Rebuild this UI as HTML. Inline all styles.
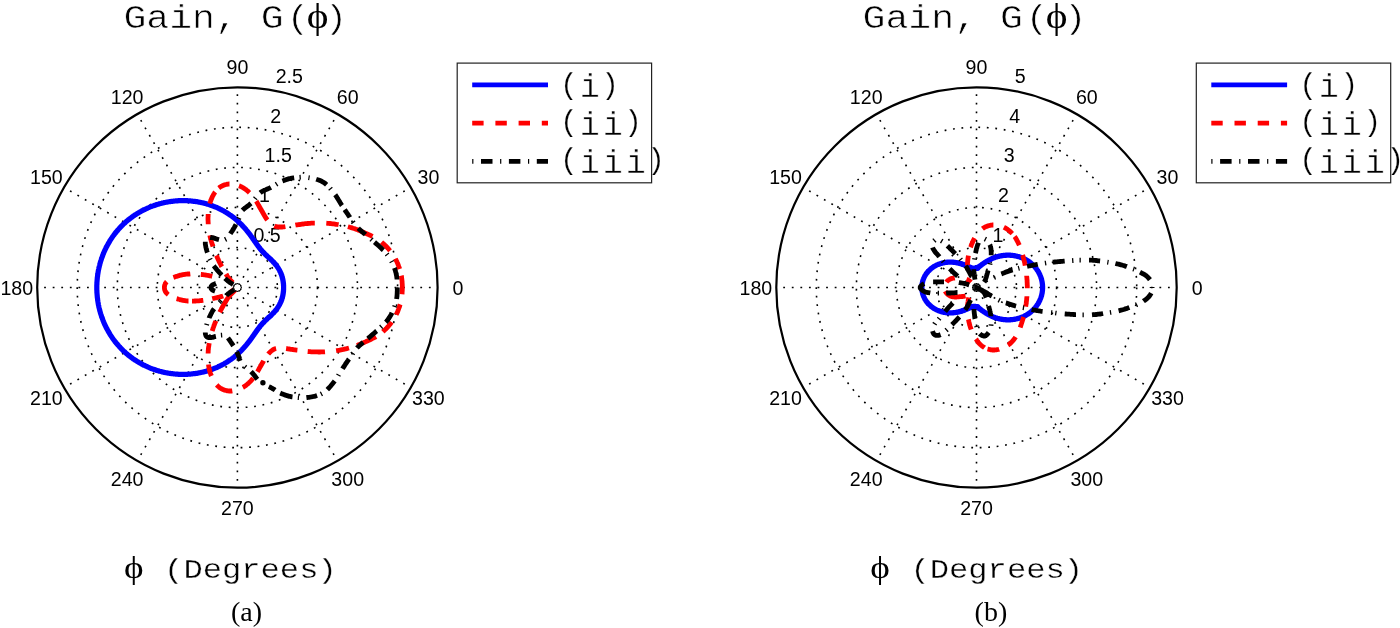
<!DOCTYPE html>
<html lang="en"><head><meta charset="utf-8"><title>Gain polar plots</title>
<style>html,body{margin:0;padding:0;background:#fff}svg{display:block}</style></head><body>
<svg width="1400" height="628" viewBox="0 0 1400 628">
<rect width="1400" height="628" fill="#fff"/>
<g fill="none" stroke="#000" stroke-width="1.6" stroke-dasharray="1.8 6.7">
<circle cx="237.4" cy="287.5" r="40.0"/>
<circle cx="237.4" cy="287.5" r="80.1"/>
<circle cx="237.4" cy="287.5" r="120.1"/>
<circle cx="237.4" cy="287.5" r="160.2"/>
</g>
<g fill="none" stroke="#000" stroke-width="1.6" stroke-dasharray="1.8 6.78" stroke-dashoffset="5.86">
<path d="M237.4 287.5L437.6 287.5"/>
<path d="M237.4 287.5L410.8 187.4"/>
<path d="M237.4 287.5L337.5 114.1"/>
<path d="M237.4 287.5L237.4 87.3"/>
<path d="M237.4 287.5L137.3 114.1"/>
<path d="M237.4 287.5L64.0 187.4"/>
<path d="M237.4 287.5L37.2 287.5"/>
<path d="M237.4 287.5L64.0 387.6"/>
<path d="M237.4 287.5L137.3 460.9"/>
<path d="M237.4 287.5L237.4 487.7"/>
<path d="M237.4 287.5L337.5 460.9"/>
<path d="M237.4 287.5L410.8 387.6"/>
</g>
<circle cx="237.4" cy="287.5" r="200.2" fill="none" stroke="#000" stroke-width="2.2"/>
<g font-family="'Liberation Sans', sans-serif" font-size="19.6" fill="#000">
<text x="458.0" y="294.7" text-anchor="middle">0</text>
<text x="428.4" y="184.4" text-anchor="middle">30</text>
<text x="347.7" y="103.7" text-anchor="middle">60</text>
<text x="237.4" y="74.1" text-anchor="middle">90</text>
<text x="127.1" y="103.7" text-anchor="middle">120</text>
<text x="46.4" y="184.4" text-anchor="middle">150</text>
<text x="16.8" y="294.7" text-anchor="middle">180</text>
<text x="46.4" y="405.0" text-anchor="middle">210</text>
<text x="127.1" y="485.7" text-anchor="middle">240</text>
<text x="237.4" y="515.3" text-anchor="middle">270</text>
<text x="347.7" y="485.7" text-anchor="middle">300</text>
<text x="428.4" y="405.0" text-anchor="middle">330</text>
<text x="253.5" y="241.6">0.5</text>
<text x="259.0" y="201.9">1</text>
<text x="264.6" y="162.3">1.5</text>
<text x="270.2" y="122.6">2</text>
<text x="275.7" y="83.0">2.5</text>
</g>
<path d="M283.6 287.5L283.6 287.3L283.6 287.1L283.6 286.9L283.6 286.7L283.6 286.5L283.6 286.3L283.6 286.1L283.6 285.9L283.6 285.7L283.6 285.5L283.6 285.3L283.5 285.1L283.5 284.9L283.5 284.7L283.5 284.5L283.5 284.3L283.5 284.1L283.5 283.9L283.4 283.7L283.4 283.5L283.4 283.3L283.4 283.1L283.3 282.9L283.3 282.7L283.3 282.5L283.3 282.3L283.2 282.1L283.2 281.9L283.2 281.7L283.2 281.5L283.1 281.3L283.1 281.1L283.1 280.9L283.0 280.7L283.0 280.5L283.0 280.3L282.9 280.1L282.9 279.9L282.8 279.7L282.8 279.5L282.8 279.3L282.7 279.1L282.7 278.9L282.6 278.7L282.6 278.5L282.5 278.3L282.5 278.1L282.4 277.9L282.4 277.7L282.3 277.5L282.3 277.3L282.2 277.2L282.2 277.0L282.1 276.8L282.1 276.6L282.0 276.4L281.9 276.2L281.9 276.0L281.8 275.8L281.8 275.6L281.7 275.4L281.6 275.2L281.6 275.0L281.5 274.9L281.4 274.7L281.4 274.5L281.3 274.3L281.2 274.1L281.2 273.9L281.1 273.7L281.0 273.5L280.9 273.4L280.9 273.2L280.8 273.0L280.7 272.8L280.6 272.6L280.5 272.4L280.5 272.3L280.4 272.1L280.3 271.9L280.2 271.7L280.1 271.5L280.0 271.3L279.9 271.2L279.9 271.0L279.8 270.8L279.7 270.6L279.6 270.5L279.5 270.3L279.4 270.1L279.3 269.9L279.2 269.8L279.1 269.6L279.0 269.4L278.9 269.2L278.8 269.1L278.7 268.9L278.6 268.7L278.5 268.6L278.4 268.4L278.3 268.2L278.2 268.1L278.1 267.9L278.0 267.7L277.9 267.6L277.7 267.4L277.6 267.2L277.5 267.1L277.4 266.9L277.3 266.7L277.2 266.6L277.1 266.4L276.9 266.2L276.8 266.1L276.7 265.9L276.6 265.8L276.5 265.6L276.4 265.5L276.2 265.3L276.1 265.1L276.0 265.0L275.9 264.8L275.7 264.7L275.6 264.5L275.5 264.4L275.4 264.2L275.2 264.1L275.1 263.9L275.0 263.8L274.9 263.6L274.7 263.5L274.6 263.3L274.5 263.2L274.3 263.0L274.2 262.9L274.1 262.8L273.9 262.6L273.8 262.5L273.7 262.3L273.5 262.2L273.4 262.0L273.3 261.9L273.1 261.8L273.0 261.6L272.9 261.5L272.7 261.3L272.6 261.2L272.5 261.1L272.3 260.9L272.2 260.8L272.1 260.7L271.9 260.5L271.8 260.4L271.6 260.3L271.5 260.1L271.4 260.0L271.2 259.9L271.1 259.7L270.9 259.6L270.8 259.5L270.7 259.3L270.5 259.2L270.4 259.1L270.3 258.9L270.1 258.8L270.0 258.7L269.8 258.6L269.7 258.4L269.5 258.3L269.4 258.2L269.3 258.0L269.1 257.9L269.0 257.8L268.8 257.7L268.7 257.5L268.6 257.4L268.4 257.3L268.3 257.1L268.1 257.0L268.0 256.9L267.9 256.8L267.7 256.6L267.6 256.5L267.5 256.4L267.3 256.3L267.2 256.1L267.0 256.0L266.9 255.9L266.8 255.7L266.6 255.6L266.5 255.5L266.3 255.4L266.2 255.2L266.1 255.1L265.9 255.0L265.8 254.8L265.7 254.7L265.5 254.6L265.4 254.4L265.2 254.3L265.1 254.2L265.0 254.1L264.8 253.9L264.7 253.8L264.6 253.7L264.4 253.5L264.3 253.4L264.2 253.2L264.0 253.1L263.9 253.0L263.8 252.8L263.6 252.7L263.5 252.6L263.4 252.4L263.2 252.3L263.1 252.1L263.0 252.0L262.8 251.9L262.7 251.7L262.6 251.6L262.4 251.4L262.3 251.3L262.2 251.1L262.0 251.0L261.9 250.8L261.8 250.7L261.6 250.5L261.5 250.4L261.4 250.2L261.2 250.1L261.1 249.9L261.0 249.8L260.8 249.6L260.7 249.5L260.6 249.3L260.5 249.1L260.3 249.0L260.2 248.8L260.1 248.7L259.9 248.5L259.8 248.3L259.7 248.2L259.5 248.0L259.4 247.8L259.3 247.6L259.1 247.5L259.0 247.3L258.9 247.1L258.7 246.9L258.6 246.8L258.5 246.6L258.3 246.4L258.2 246.2L258.1 246.1L257.9 245.9L257.8 245.7L257.7 245.5L257.5 245.3L257.4 245.1L257.2 244.9L257.1 244.7L257.0 244.5L256.8 244.4L256.7 244.2L256.6 244.0L256.4 243.8L256.3 243.6L256.1 243.4L256.0 243.2L255.9 243.0L255.7 242.8L255.6 242.5L255.4 242.3L255.3 242.1L255.1 241.9L255.0 241.7L254.8 241.5L254.7 241.3L254.5 241.1L254.4 240.8L254.2 240.6L254.1 240.4L253.9 240.2L253.8 240.0L253.6 239.7L253.5 239.5L253.3 239.3L253.1 239.1L253.0 238.8L252.8 238.6L252.7 238.4L252.5 238.1L252.3 237.9L252.2 237.7L252.0 237.4L251.8 237.2L251.7 237.0L251.5 236.7L251.3 236.5L251.1 236.2L251.0 236.0L250.8 235.8L250.6 235.5L250.4 235.3L250.2 235.0L250.1 234.8L249.9 234.5L249.7 234.3L249.5 234.0L249.3 233.8L249.1 233.5L248.9 233.3L248.7 233.0L248.5 232.8L248.3 232.5L248.1 232.3L247.9 232.0L247.7 231.8L247.5 231.5L247.3 231.3L247.1 231.0L246.9 230.7L246.7 230.5L246.5 230.2L246.3 230.0L246.0 229.7L245.8 229.4L245.6 229.2L245.4 228.9L245.1 228.6L244.9 228.4L244.7 228.1L244.5 227.9L244.2 227.6L244.0 227.3L243.8 227.1L243.5 226.8L243.3 226.5L243.0 226.3L242.8 226.0L242.5 225.8L242.3 225.5L242.0 225.2L241.8 225.0L241.5 224.7L241.3 224.4L241.0 224.2L240.7 223.9L240.5 223.6L240.2 223.4L239.9 223.1L239.7 222.9L239.4 222.6L239.1 222.3L238.8 222.1L238.5 221.8L238.3 221.6L238.0 221.3L237.7 221.0L237.4 220.8L237.1 220.5L236.8 220.3L236.5 220.0L236.2 219.7L235.9 219.5L235.6 219.2L235.3 219.0L235.0 218.7L234.7 218.5L234.4 218.2L234.1 218.0L233.7 217.7L233.4 217.5L233.1 217.2L232.8 217.0L232.4 216.7L232.1 216.5L231.8 216.2L231.5 216.0L231.1 215.7L230.8 215.5L230.4 215.3L230.1 215.0L229.8 214.8L229.4 214.5L229.1 214.3L228.7 214.1L228.4 213.8L228.0 213.6L227.6 213.4L227.3 213.1L226.9 212.9L226.6 212.7L226.2 212.5L225.8 212.2L225.4 212.0L225.1 211.8L224.7 211.6L224.3 211.4L223.9 211.1L223.6 210.9L223.2 210.7L222.8 210.5L222.4 210.3L222.0 210.1L221.6 209.9L221.2 209.7L220.8 209.5L220.4 209.3L220.0 209.1L219.6 208.9L219.2 208.7L218.8 208.5L218.4 208.3L218.0 208.1L217.6 207.9L217.1 207.7L216.7 207.5L216.3 207.4L215.9 207.2L215.5 207.0L215.0 206.8L214.6 206.7L214.2 206.5L213.7 206.3L213.3 206.1L212.9 206.0L212.4 205.8L212.0 205.6L211.5 205.5L211.1 205.3L210.7 205.2L210.2 205.0L209.8 204.9L209.3 204.7L208.9 204.6L208.4 204.4L207.9 204.3L207.5 204.2L207.0 204.0L206.6 203.9L206.1 203.8L205.6 203.6L205.2 203.5L204.7 203.4L204.2 203.3L203.7 203.1L203.3 203.0L202.8 202.9L202.3 202.8L201.8 202.7L201.4 202.6L200.9 202.5L200.4 202.4L199.9 202.3L199.4 202.2L198.9 202.1L198.4 202.0L197.9 201.9L197.5 201.8L197.0 201.7L196.5 201.7L196.0 201.6L195.5 201.5L195.0 201.4L194.5 201.4L194.0 201.3L193.5 201.3L192.9 201.2L192.4 201.1L191.9 201.1L191.4 201.0L190.9 201.0L190.4 200.9L189.9 200.9L189.4 200.9L188.9 200.8L188.3 200.8L187.8 200.8L187.3 200.7L186.8 200.7L186.3 200.7L185.7 200.7L185.2 200.7L184.7 200.6L184.2 200.6L183.6 200.6L183.1 200.6L182.6 200.6L182.1 200.6L181.5 200.6L181.0 200.6L180.5 200.7L179.9 200.7L179.4 200.7L178.9 200.7L178.3 200.7L177.8 200.8L177.3 200.8L176.7 200.8L176.2 200.9L175.7 200.9L175.1 201.0L174.6 201.0L174.0 201.1L173.5 201.1L173.0 201.2L172.4 201.3L171.9 201.3L171.3 201.4L170.8 201.5L170.3 201.6L169.7 201.6L169.2 201.7L168.6 201.8L168.1 201.9L167.5 202.0L167.0 202.1L166.5 202.2L165.9 202.3L165.4 202.4L164.8 202.5L164.3 202.6L163.7 202.8L163.2 202.9L162.6 203.0L162.1 203.1L161.6 203.3L161.0 203.4L160.5 203.6L159.9 203.7L159.4 203.8L158.9 204.0L158.3 204.2L157.8 204.3L157.2 204.5L156.7 204.6L156.1 204.8L155.6 205.0L155.1 205.2L154.5 205.4L154.0 205.5L153.5 205.7L152.9 205.9L152.4 206.1L151.9 206.3L151.3 206.5L150.8 206.7L150.3 206.9L149.7 207.2L149.2 207.4L148.7 207.6L148.1 207.8L147.6 208.1L147.1 208.3L146.6 208.5L146.0 208.8L145.5 209.0L145.0 209.3L144.5 209.5L144.0 209.8L143.4 210.0L142.9 210.3L142.4 210.6L141.9 210.8L141.4 211.1L140.9 211.4L140.4 211.7L139.9 212.0L139.4 212.3L138.8 212.6L138.3 212.9L137.8 213.2L137.3 213.5L136.8 213.8L136.4 214.1L135.9 214.4L135.4 214.7L134.9 215.0L134.4 215.4L133.9 215.7L133.4 216.0L132.9 216.4L132.5 216.7L132.0 217.1L131.5 217.4L131.0 217.8L130.6 218.1L130.1 218.5L129.6 218.8L129.2 219.2L128.7 219.6L128.2 219.9L127.8 220.3L127.3 220.7L126.9 221.1L126.4 221.5L126.0 221.9L125.5 222.3L125.1 222.7L124.6 223.1L124.2 223.5L123.8 223.9L123.3 224.3L122.9 224.7L122.5 225.1L122.1 225.5L121.6 225.9L121.2 226.4L120.8 226.8L120.4 227.2L120.0 227.7L119.6 228.1L119.2 228.6L118.8 229.0L118.4 229.4L118.0 229.9L117.6 230.4L117.2 230.8L116.8 231.3L116.4 231.7L116.1 232.2L115.7 232.7L115.3 233.1L114.9 233.6L114.6 234.1L114.2 234.6L113.8 235.1L113.5 235.5L113.1 236.0L112.8 236.5L112.4 237.0L112.1 237.5L111.8 238.0L111.4 238.5L111.1 239.0L110.8 239.5L110.4 240.0L110.1 240.5L109.8 241.1L109.5 241.6L109.2 242.1L108.9 242.6L108.6 243.1L108.3 243.7L108.0 244.2L107.7 244.7L107.4 245.3L107.1 245.8L106.8 246.3L106.5 246.9L106.2 247.4L106.0 247.9L105.7 248.5L105.4 249.0L105.2 249.6L104.9 250.1L104.7 250.7L104.4 251.2L104.2 251.8L103.9 252.4L103.7 252.9L103.5 253.5L103.2 254.1L103.0 254.6L102.8 255.2L102.6 255.8L102.4 256.3L102.2 256.9L101.9 257.5L101.7 258.0L101.5 258.6L101.4 259.2L101.2 259.8L101.0 260.4L100.8 260.9L100.6 261.5L100.4 262.1L100.3 262.7L100.1 263.3L99.9 263.9L99.8 264.5L99.6 265.1L99.5 265.7L99.3 266.3L99.2 266.8L99.1 267.4L98.9 268.0L98.8 268.6L98.7 269.2L98.5 269.8L98.4 270.4L98.3 271.0L98.2 271.6L98.1 272.2L98.0 272.8L97.9 273.5L97.8 274.1L97.7 274.7L97.6 275.3L97.6 275.9L97.5 276.5L97.4 277.1L97.3 277.7L97.3 278.3L97.2 278.9L97.2 279.5L97.1 280.1L97.1 280.8L97.0 281.4L97.0 282.0L96.9 282.6L96.9 283.2L96.9 283.8L96.9 284.4L96.8 285.0L96.8 285.7L96.8 286.3L96.8 286.9L96.8 287.5L96.8 288.1L96.8 288.7L96.8 289.3L96.8 290.0L96.9 290.6L96.9 291.2L96.9 291.8L96.9 292.4L97.0 293.0L97.0 293.6L97.1 294.2L97.1 294.9L97.2 295.5L97.2 296.1L97.3 296.7L97.3 297.3L97.4 297.9L97.5 298.5L97.6 299.1L97.6 299.7L97.7 300.3L97.8 300.9L97.9 301.5L98.0 302.2L98.1 302.8L98.2 303.4L98.3 304.0L98.4 304.6L98.5 305.2L98.7 305.8L98.8 306.4L98.9 307.0L99.1 307.6L99.2 308.2L99.3 308.7L99.5 309.3L99.6 309.9L99.8 310.5L99.9 311.1L100.1 311.7L100.3 312.3L100.4 312.9L100.6 313.5L100.8 314.1L101.0 314.6L101.2 315.2L101.4 315.8L101.5 316.4L101.7 317.0L101.9 317.5L102.2 318.1L102.4 318.7L102.6 319.2L102.8 319.8L103.0 320.4L103.2 320.9L103.5 321.5L103.7 322.1L103.9 322.6L104.2 323.2L104.4 323.8L104.7 324.3L104.9 324.9L105.2 325.4L105.4 326.0L105.7 326.5L106.0 327.1L106.2 327.6L106.5 328.1L106.8 328.7L107.1 329.2L107.4 329.7L107.7 330.3L108.0 330.8L108.3 331.3L108.6 331.9L108.9 332.4L109.2 332.9L109.5 333.4L109.8 333.9L110.1 334.5L110.4 335.0L110.8 335.5L111.1 336.0L111.4 336.5L111.8 337.0L112.1 337.5L112.4 338.0L112.8 338.5L113.1 339.0L113.5 339.5L113.8 339.9L114.2 340.4L114.6 340.9L114.9 341.4L115.3 341.9L115.7 342.3L116.1 342.8L116.4 343.3L116.8 343.7L117.2 344.2L117.6 344.6L118.0 345.1L118.4 345.6L118.8 346.0L119.2 346.4L119.6 346.9L120.0 347.3L120.4 347.8L120.8 348.2L121.2 348.6L121.6 349.1L122.1 349.5L122.5 349.9L122.9 350.3L123.3 350.7L123.8 351.1L124.2 351.5L124.6 351.9L125.1 352.3L125.5 352.7L126.0 353.1L126.4 353.5L126.9 353.9L127.3 354.3L127.8 354.7L128.2 355.1L128.7 355.4L129.2 355.8L129.6 356.2L130.1 356.5L130.6 356.9L131.0 357.2L131.5 357.6L132.0 357.9L132.5 358.3L132.9 358.6L133.4 359.0L133.9 359.3L134.4 359.6L134.9 360.0L135.4 360.3L135.9 360.6L136.4 360.9L136.8 361.2L137.3 361.5L137.8 361.8L138.3 362.1L138.8 362.4L139.4 362.7L139.9 363.0L140.4 363.3L140.9 363.6L141.4 363.9L141.9 364.2L142.4 364.4L142.9 364.7L143.4 365.0L144.0 365.2L144.5 365.5L145.0 365.7L145.5 366.0L146.0 366.2L146.6 366.5L147.1 366.7L147.6 366.9L148.1 367.2L148.7 367.4L149.2 367.6L149.7 367.8L150.3 368.1L150.8 368.3L151.3 368.5L151.9 368.7L152.4 368.9L152.9 369.1L153.5 369.3L154.0 369.5L154.5 369.6L155.1 369.8L155.6 370.0L156.1 370.2L156.7 370.4L157.2 370.5L157.8 370.7L158.3 370.8L158.9 371.0L159.4 371.2L159.9 371.3L160.5 371.4L161.0 371.6L161.6 371.7L162.1 371.9L162.6 372.0L163.2 372.1L163.7 372.2L164.3 372.4L164.8 372.5L165.4 372.6L165.9 372.7L166.5 372.8L167.0 372.9L167.5 373.0L168.1 373.1L168.6 373.2L169.2 373.3L169.7 373.4L170.3 373.4L170.8 373.5L171.3 373.6L171.9 373.7L172.4 373.7L173.0 373.8L173.5 373.9L174.0 373.9L174.6 374.0L175.1 374.0L175.7 374.1L176.2 374.1L176.7 374.2L177.3 374.2L177.8 374.2L178.3 374.3L178.9 374.3L179.4 374.3L179.9 374.3L180.5 374.3L181.0 374.4L181.5 374.4L182.1 374.4L182.6 374.4L183.1 374.4L183.6 374.4L184.2 374.4L184.7 374.4L185.2 374.3L185.7 374.3L186.3 374.3L186.8 374.3L187.3 374.3L187.8 374.2L188.3 374.2L188.9 374.2L189.4 374.1L189.9 374.1L190.4 374.1L190.9 374.0L191.4 374.0L191.9 373.9L192.4 373.9L192.9 373.8L193.5 373.7L194.0 373.7L194.5 373.6L195.0 373.6L195.5 373.5L196.0 373.4L196.5 373.3L197.0 373.3L197.5 373.2L197.9 373.1L198.4 373.0L198.9 372.9L199.4 372.8L199.9 372.7L200.4 372.6L200.9 372.5L201.4 372.4L201.8 372.3L202.3 372.2L202.8 372.1L203.3 372.0L203.7 371.9L204.2 371.7L204.7 371.6L205.2 371.5L205.6 371.4L206.1 371.2L206.6 371.1L207.0 371.0L207.5 370.8L207.9 370.7L208.4 370.6L208.9 370.4L209.3 370.3L209.8 370.1L210.2 370.0L210.7 369.8L211.1 369.7L211.5 369.5L212.0 369.4L212.4 369.2L212.9 369.0L213.3 368.9L213.7 368.7L214.2 368.5L214.6 368.3L215.0 368.2L215.5 368.0L215.9 367.8L216.3 367.6L216.7 367.5L217.1 367.3L217.6 367.1L218.0 366.9L218.4 366.7L218.8 366.5L219.2 366.3L219.6 366.1L220.0 365.9L220.4 365.7L220.8 365.5L221.2 365.3L221.6 365.1L222.0 364.9L222.4 364.7L222.8 364.5L223.2 364.3L223.6 364.1L223.9 363.9L224.3 363.6L224.7 363.4L225.1 363.2L225.4 363.0L225.8 362.8L226.2 362.5L226.6 362.3L226.9 362.1L227.3 361.9L227.6 361.6L228.0 361.4L228.4 361.2L228.7 360.9L229.1 360.7L229.4 360.5L229.8 360.2L230.1 360.0L230.4 359.7L230.8 359.5L231.1 359.3L231.5 359.0L231.8 358.8L232.1 358.5L232.4 358.3L232.8 358.0L233.1 357.8L233.4 357.5L233.7 357.3L234.1 357.0L234.4 356.8L234.7 356.5L235.0 356.3L235.3 356.0L235.6 355.8L235.9 355.5L236.2 355.3L236.5 355.0L236.8 354.7L237.1 354.5L237.4 354.2L237.7 354.0L238.0 353.7L238.3 353.4L238.5 353.2L238.8 352.9L239.1 352.7L239.4 352.4L239.7 352.1L239.9 351.9L240.2 351.6L240.5 351.4L240.7 351.1L241.0 350.8L241.3 350.6L241.5 350.3L241.8 350.0L242.0 349.8L242.3 349.5L242.5 349.2L242.8 349.0L243.0 348.7L243.3 348.5L243.5 348.2L243.8 347.9L244.0 347.7L244.2 347.4L244.5 347.1L244.7 346.9L244.9 346.6L245.1 346.4L245.4 346.1L245.6 345.8L245.8 345.6L246.0 345.3L246.3 345.0L246.5 344.8L246.7 344.5L246.9 344.3L247.1 344.0L247.3 343.7L247.5 343.5L247.7 343.2L247.9 343.0L248.1 342.7L248.3 342.5L248.5 342.2L248.7 342.0L248.9 341.7L249.1 341.5L249.3 341.2L249.5 341.0L249.7 340.7L249.9 340.5L250.1 340.2L250.2 340.0L250.4 339.7L250.6 339.5L250.8 339.2L251.0 339.0L251.1 338.8L251.3 338.5L251.5 338.3L251.7 338.0L251.8 337.8L252.0 337.6L252.2 337.3L252.3 337.1L252.5 336.9L252.7 336.6L252.8 336.4L253.0 336.2L253.1 335.9L253.3 335.7L253.5 335.5L253.6 335.3L253.8 335.0L253.9 334.8L254.1 334.6L254.2 334.4L254.4 334.2L254.5 333.9L254.7 333.7L254.8 333.5L255.0 333.3L255.1 333.1L255.3 332.9L255.4 332.7L255.6 332.5L255.7 332.2L255.9 332.0L256.0 331.8L256.1 331.6L256.3 331.4L256.4 331.2L256.6 331.0L256.7 330.8L256.8 330.6L257.0 330.5L257.1 330.3L257.2 330.1L257.4 329.9L257.5 329.7L257.7 329.5L257.8 329.3L257.9 329.1L258.1 328.9L258.2 328.8L258.3 328.6L258.5 328.4L258.6 328.2L258.7 328.1L258.9 327.9L259.0 327.7L259.1 327.5L259.3 327.4L259.4 327.2L259.5 327.0L259.7 326.8L259.8 326.7L259.9 326.5L260.1 326.3L260.2 326.2L260.3 326.0L260.5 325.9L260.6 325.7L260.7 325.5L260.8 325.4L261.0 325.2L261.1 325.1L261.2 324.9L261.4 324.8L261.5 324.6L261.6 324.5L261.8 324.3L261.9 324.2L262.0 324.0L262.2 323.9L262.3 323.7L262.4 323.6L262.6 323.4L262.7 323.3L262.8 323.1L263.0 323.0L263.1 322.9L263.2 322.7L263.4 322.6L263.5 322.4L263.6 322.3L263.8 322.2L263.9 322.0L264.0 321.9L264.2 321.8L264.3 321.6L264.4 321.5L264.6 321.3L264.7 321.2L264.8 321.1L265.0 320.9L265.1 320.8L265.2 320.7L265.4 320.6L265.5 320.4L265.7 320.3L265.8 320.2L265.9 320.0L266.1 319.9L266.2 319.8L266.3 319.6L266.5 319.5L266.6 319.4L266.8 319.3L266.9 319.1L267.0 319.0L267.2 318.9L267.3 318.7L267.5 318.6L267.6 318.5L267.7 318.4L267.9 318.2L268.0 318.1L268.1 318.0L268.3 317.9L268.4 317.7L268.6 317.6L268.7 317.5L268.8 317.3L269.0 317.2L269.1 317.1L269.3 317.0L269.4 316.8L269.5 316.7L269.7 316.6L269.8 316.4L270.0 316.3L270.1 316.2L270.3 316.1L270.4 315.9L270.5 315.8L270.7 315.7L270.8 315.5L270.9 315.4L271.1 315.3L271.2 315.1L271.4 315.0L271.5 314.9L271.6 314.7L271.8 314.6L271.9 314.5L272.1 314.3L272.2 314.2L272.3 314.1L272.5 313.9L272.6 313.8L272.7 313.7L272.9 313.5L273.0 313.4L273.1 313.2L273.3 313.1L273.4 313.0L273.5 312.8L273.7 312.7L273.8 312.5L273.9 312.4L274.1 312.2L274.2 312.1L274.3 312.0L274.5 311.8L274.6 311.7L274.7 311.5L274.9 311.4L275.0 311.2L275.1 311.1L275.2 310.9L275.4 310.8L275.5 310.6L275.6 310.5L275.7 310.3L275.9 310.2L276.0 310.0L276.1 309.9L276.2 309.7L276.4 309.5L276.5 309.4L276.6 309.2L276.7 309.1L276.8 308.9L276.9 308.8L277.1 308.6L277.2 308.4L277.3 308.3L277.4 308.1L277.5 307.9L277.6 307.8L277.7 307.6L277.9 307.4L278.0 307.3L278.1 307.1L278.2 306.9L278.3 306.8L278.4 306.6L278.5 306.4L278.6 306.3L278.7 306.1L278.8 305.9L278.9 305.8L279.0 305.6L279.1 305.4L279.2 305.2L279.3 305.1L279.4 304.9L279.5 304.7L279.6 304.5L279.7 304.4L279.8 304.2L279.9 304.0L279.9 303.8L280.0 303.7L280.1 303.5L280.2 303.3L280.3 303.1L280.4 302.9L280.5 302.7L280.5 302.6L280.6 302.4L280.7 302.2L280.8 302.0L280.9 301.8L280.9 301.6L281.0 301.5L281.1 301.3L281.2 301.1L281.2 300.9L281.3 300.7L281.4 300.5L281.4 300.3L281.5 300.1L281.6 300.0L281.6 299.8L281.7 299.6L281.8 299.4L281.8 299.2L281.9 299.0L281.9 298.8L282.0 298.6L282.1 298.4L282.1 298.2L282.2 298.0L282.2 297.8L282.3 297.7L282.3 297.5L282.4 297.3L282.4 297.1L282.5 296.9L282.5 296.7L282.6 296.5L282.6 296.3L282.7 296.1L282.7 295.9L282.8 295.7L282.8 295.5L282.8 295.3L282.9 295.1L282.9 294.9L283.0 294.7L283.0 294.5L283.0 294.3L283.1 294.1L283.1 293.9L283.1 293.7L283.2 293.5L283.2 293.3L283.2 293.1L283.2 292.9L283.3 292.7L283.3 292.5L283.3 292.3L283.3 292.1L283.4 291.9L283.4 291.7L283.4 291.5L283.4 291.3L283.5 291.1L283.5 290.9L283.5 290.7L283.5 290.5L283.5 290.3L283.5 290.1L283.5 289.9L283.6 289.7L283.6 289.5L283.6 289.3L283.6 289.1L283.6 288.9L283.6 288.7L283.6 288.5L283.6 288.3L283.6 288.1L283.6 287.9L283.6 287.7Z" fill="none" stroke="#0000ff" stroke-width="5.2"/>
<path d="M209.8 203.7L210.0 203.0L210.2 202.3L210.4 201.7L210.6 201.0L210.9 200.3L211.1 199.7L211.4 199.0L211.7 198.4L212.0 197.7L212.2 197.1L212.5 196.4L212.9 195.8L213.2 195.2L213.5 194.6L213.8 194.1L214.2 193.5L214.5 193.0L214.8 192.5L215.2 192.0M218.8 188.1L219.2 187.8L219.6 187.4L220.1 187.1L220.5 186.8L221.0 186.5L221.5 186.2L222.0 186.0L222.5 185.7L223.0 185.5L223.5 185.3L224.0 185.1L224.6 184.9L225.1 184.8L225.6 184.6L226.2 184.5L226.7 184.4L227.3 184.2L227.8 184.2L228.4 184.1L229.0 184.0L229.5 184.0M239.0 185.7L239.6 185.9L240.1 186.2L240.7 186.4L241.2 186.7L241.8 187.0L242.3 187.3L242.8 187.6L243.4 187.9L243.9 188.3L244.4 188.6L245.0 189.0L245.5 189.3L246.0 189.7L246.5 190.1L247.0 190.5L247.5 190.9L248.0 191.3L248.5 191.8L249.0 192.2L249.5 192.7M256.2 201.1L256.6 201.7L257.0 202.4L257.4 203.2L257.8 203.9L258.2 204.6L258.6 205.3L259.0 206.0L259.4 206.8L259.8 207.5L260.2 208.2L260.6 208.8L261.0 209.5L261.4 210.2L261.8 210.8L262.1 211.5L262.5 212.2L262.9 212.8L263.3 213.5L263.6 214.2L264.0 214.8L264.4 215.5L264.7 216.1L265.1 216.7L265.5 217.3L265.9 217.9L266.2 218.4L266.6 219.0L267.0 219.5L267.4 220.0M274.4 225.9L274.8 226.1L275.2 226.3L275.6 226.4L276.1 226.5L276.5 226.6L276.9 226.7L277.4 226.8L277.9 226.9L278.3 226.9L278.8 226.9L279.3 227.0L279.9 227.0L280.4 227.0L281.0 227.0L281.6 227.0L282.2 227.0L282.8 226.9L283.5 226.9L284.1 226.8L284.8 226.7L285.4 226.6M295.4 225.1L296.4 224.9L297.4 224.8L298.5 224.6L299.6 224.5L300.7 224.3L301.8 224.1L303.0 224.0L304.1 223.8L305.3 223.7L306.5 223.6L307.7 223.5L308.8 223.4L310.0 223.3L311.2 223.2L312.4 223.2L313.6 223.1L314.8 223.1M326.3 223.2L327.5 223.3L328.8 223.4L330.0 223.5L331.2 223.6L332.5 223.8L333.7 223.9L334.9 224.1L336.1 224.3L337.4 224.5L338.6 224.7M347.9 226.7L349.0 227.0L350.0 227.3L351.1 227.6L352.1 227.9L353.0 228.2L354.0 228.5L354.9 228.8L355.9 229.2L356.8 229.5L357.7 229.8L358.6 230.2L359.5 230.6L360.4 230.9L361.3 231.3L362.2 231.7L363.1 232.1L364.0 232.5L364.9 232.9L365.9 233.3L366.8 233.8L367.8 234.2L368.7 234.6L369.6 235.1L370.6 235.5L371.5 236.0L372.5 236.5M381.5 242.2L382.2 242.8L382.9 243.3L383.5 243.9L384.2 244.5L384.8 245.1L385.5 245.7L386.1 246.3L386.7 246.9L387.3 247.6L387.9 248.2L388.4 248.8L389.0 249.5L389.6 250.2L390.1 250.8M395.3 258.7L395.7 259.5L396.1 260.2L396.5 261.0L396.9 261.8L397.2 262.5L397.6 263.3L397.9 264.1L398.2 264.9L398.5 265.7L398.8 266.6L399.1 267.4L399.4 268.2L399.7 269.0M401.3 275.7L401.5 276.5L401.6 277.3L401.7 278.2L401.8 279.0L401.9 279.9L402.0 280.7L402.1 281.6L402.1 282.4L402.2 283.3L402.2 284.1L402.3 285.0L402.3 285.8L402.3 286.7L402.3 287.5L402.3 288.3L402.3 289.2L402.3 290.0L402.2 290.9L402.2 291.7L402.1 292.6L402.1 293.4L402.0 294.3M400.2 304.3L399.9 305.1L399.7 306.0L399.4 306.8L399.1 307.6L398.8 308.4L398.5 309.3L398.2 310.1L397.9 310.9L397.6 311.7L397.2 312.5L396.9 313.2L396.5 314.0L396.1 314.8M391.7 322.1L391.2 322.8L390.6 323.5L390.1 324.2L389.6 324.8L389.0 325.5L388.4 326.2L387.9 326.8L387.3 327.4L386.7 328.1L386.1 328.7L385.5 329.3L384.8 329.9L384.2 330.5L383.5 331.1L382.9 331.7M376.0 336.6L375.2 337.1L374.3 337.6L373.4 338.0L372.5 338.5L371.5 339.0L370.6 339.5L369.6 339.9L368.7 340.4L367.8 340.8L366.8 341.2L365.9 341.7L364.9 342.1L364.0 342.5L363.1 342.9L362.2 343.3L361.3 343.7L360.4 344.1L359.5 344.4L358.6 344.8L357.7 345.2L356.8 345.5M349.0 348.0L347.9 348.3L346.8 348.6L345.7 348.8L344.6 349.1L343.4 349.4L342.2 349.6L341.0 349.8L339.8 350.1L338.6 350.3L337.4 350.5L336.1 350.7M325.0 351.8L323.7 351.9L322.5 351.9L321.2 351.9L319.9 352.0L318.6 352.0L317.4 351.9L316.1 351.9L314.8 351.9L313.6 351.9L312.4 351.8L311.2 351.8L310.0 351.7L308.8 351.6L307.7 351.5M297.4 350.2L296.4 350.1L295.4 349.9L294.4 349.8L293.4 349.6L292.5 349.5L291.6 349.4L290.7 349.3L289.9 349.1L289.1 349.0L288.3 348.9L287.6 348.8L286.8 348.6L286.1 348.5M276.1 348.5L275.6 348.6L275.2 348.7L274.8 348.9L274.4 349.1L273.9 349.3L273.5 349.5L273.1 349.7L272.6 350.0L272.2 350.3L271.8 350.6L271.4 350.9L271.0 351.2L270.6 351.6L270.2 352.0L269.8 352.4L269.4 352.8L269.0 353.2L268.6 353.6L268.2 354.1M263.6 360.8L263.3 361.5L262.9 362.2L262.5 362.8L262.1 363.5L261.8 364.2L261.4 364.8L261.0 365.5L260.6 366.2L260.2 366.8L259.8 367.5L259.4 368.2L259.0 369.0L258.6 369.7L258.2 370.4L257.8 371.1L257.4 371.8M253.2 378.2L252.7 378.8L252.3 379.3L251.8 379.9L251.3 380.4L250.9 380.9L250.4 381.4L249.9 381.9L249.5 382.3L249.0 382.8L248.5 383.2L248.0 383.7L247.5 384.1L247.0 384.5L246.5 384.9L246.0 385.3L245.5 385.7L245.0 386.0L244.4 386.4L243.9 386.7L243.4 387.1L242.8 387.4M232.3 390.9L231.7 391.0L231.2 391.0L230.6 391.0L230.0 391.0L229.5 391.0L229.0 391.0L228.4 390.9L227.8 390.8L227.3 390.8L226.7 390.6L226.2 390.5L225.6 390.4L225.1 390.2L224.6 390.1L224.0 389.9L223.5 389.7L223.0 389.5L222.5 389.3L222.0 389.0L221.5 388.8L221.0 388.5L220.5 388.2L220.1 387.9L219.6 387.6L219.2 387.2L218.8 386.9L218.3 386.5L217.9 386.1L217.5 385.7L217.1 385.3L216.7 384.9M211.4 376.0L211.1 375.3L210.9 374.7L210.6 374.0L210.4 373.3L210.2 372.7L210.0 372.0L209.8 371.3L209.6 370.7L209.5 370.0L209.3 369.3L209.2 368.6L209.0 367.9L208.9 367.3L208.8 366.6L208.7 365.9L208.6 365.2L208.5 364.5M208.1 353.4L208.1 352.8L208.2 352.1L208.2 351.4L208.2 350.7L208.3 350.0L208.4 349.3L208.4 348.6L208.5 347.9L208.6 347.2L208.7 346.5L208.8 345.9L208.9 345.2L209.0 344.5L209.1 343.8L209.2 343.1M212.1 331.1L212.3 330.5L212.6 329.8L212.8 329.2L213.0 328.5L213.2 327.8L213.5 327.1L213.7 326.5L214.0 325.8L214.2 325.1L214.5 324.4L214.7 323.7L215.0 323.0L215.3 322.3L215.6 321.6L215.8 320.9M219.8 312.2L220.1 311.6L220.4 310.9L220.7 310.3L221.1 309.6L221.4 309.0L221.8 308.3L222.1 307.7L222.5 307.0L222.9 306.3L223.2 305.7L223.6 305.0L224.0 304.3L224.4 303.7L224.8 303.0L225.2 302.3L225.6 301.7L226.0 301.0L226.4 300.3L226.8 299.7L227.2 299.0L227.6 298.4L228.1 297.7L228.5 297.1L229.0 296.5L229.5 295.9L230.1 295.2L230.7 294.5L231.4 293.8L232.2 293.0L232.9 292.3L233.6 291.6L234.4 290.9L235.0 290.2L235.7 289.6L236.2 289.0L236.7 288.6L237.1 288.1L237.3 287.8L237.4 287.6L237.4 287.5L237.2 287.5L236.9 287.7L236.4 287.9L235.9 288.3L235.2 288.8L234.5 289.3L233.6 289.9L232.8 290.5L231.8 291.1L230.9 291.8L229.9 292.4M223.2 295.9L222.4 296.2L221.7 296.4L220.9 296.7L220.1 296.9L219.3 297.1L218.5 297.3L217.8 297.5L217.0 297.6L216.2 297.8L215.4 298.0L214.6 298.2L213.8 298.3L213.0 298.5L212.2 298.7M203.3 300.3L202.5 300.4L201.7 300.5L200.8 300.6L200.0 300.7L199.1 300.8L198.3 300.8L197.4 300.9L196.5 300.9L195.6 301.0L194.7 301.0L193.8 301.1L192.9 301.1L192.0 301.1M188.5 301.0L187.7 301.0L186.8 300.9L186.0 300.8L185.2 300.7L184.4 300.6L183.6 300.4L182.8 300.3L182.0 300.1L181.2 299.9L180.4 299.8L179.6 299.5L178.8 299.3L178.1 299.1L177.4 298.9L176.6 298.7M168.3 294.6L167.9 294.3L167.5 294.0L167.1 293.6L166.8 293.3L166.5 293.0L166.2 292.7L166.0 292.4L165.7 292.0L165.5 291.7L165.3 291.3L165.1 291.0L165.0 290.6L164.9 290.3L164.7 289.9L164.6 289.6L164.6 289.2L164.5 288.9L164.5 288.5L164.4 288.2L164.4 287.8L164.4 287.5L164.4 287.2L164.4 286.8L164.5 286.5L164.5 286.1L164.6 285.8L164.6 285.4L164.7 285.1L164.9 284.7L165.0 284.4L165.1 284.0L165.3 283.7L165.5 283.3L165.7 283.0L166.0 282.6L166.2 282.3L166.5 282.0L166.8 281.7M173.4 277.5L174.0 277.3L174.6 277.1L175.3 276.8L175.9 276.6L176.6 276.3L177.4 276.1L178.1 275.9L178.8 275.7L179.6 275.4L180.4 275.2L181.2 275.1L182.0 274.9L182.8 274.7L183.6 274.6L184.4 274.4L185.2 274.3L186.0 274.2L186.8 274.1L187.7 274.0L188.5 274.0L189.4 274.0L190.3 273.9M200.8 274.4L201.7 274.5L202.5 274.6L203.3 274.7L204.2 274.8L205.0 274.9L205.8 275.0L206.6 275.2L207.4 275.3L208.2 275.5L209.0 275.6L209.8 275.8L210.6 276.0L211.4 276.1L212.2 276.3M226.0 274.0L226.4 274.7L226.8 275.3L227.2 276.0L227.6 276.6L228.1 277.3L228.5 277.9L229.0 278.5L229.5 279.1L230.1 279.8L230.7 280.5L231.4 281.2L232.2 282.0L232.9 282.7M216.4 255.5L216.7 256.1L217.0 256.8L217.3 257.5L217.6 258.2L217.9 258.8L218.2 259.5L218.5 260.2L218.8 260.8L219.1 261.5L219.4 262.1L219.8 262.8L220.1 263.4L220.4 264.1L220.7 264.7L221.1 265.4L221.4 266.0L221.8 266.7M209.9 235.3L210.0 236.0L210.1 236.7L210.3 237.3L210.5 238.0L210.6 238.6L210.8 239.3L211.0 240.0L211.2 240.6L211.3 241.2L211.5 241.9L211.7 242.5L211.9 243.2L212.1 243.9L212.3 244.5L212.6 245.2L212.8 245.8L213.0 246.5M208.2 214.0L208.2 214.7L208.1 215.4L208.1 216.1L208.1 216.8L208.0 217.4L208.0 218.1L208.0 218.8L208.0 219.5L208.0 220.2L208.1 220.9L208.1 221.6L208.1 222.2L208.2 222.9L208.2 223.6L208.2 224.3" fill="none" stroke="#ff0000" stroke-width="4.8"/>
<path d="M205.3 241.8L205.3 242.2L205.3 242.6L205.3 243.1L205.3 243.5L205.3 244.0L205.4 244.5L205.5 245.0L205.6 245.6L205.7 246.2L205.8 246.8L205.9 247.4L206.1 248.0L206.2 248.6L206.4 249.3L206.6 249.9L206.7 250.5L206.9 251.1L207.1 251.6L207.2 252.2L207.4 252.7M210.1 237.4L210.5 237.5L210.9 237.5L211.2 237.5L211.6 237.6L212.0 237.6L212.4 237.7L212.8 237.7L213.2 237.8L213.6 238.0L214.1 238.1L214.5 238.3L215.0 238.4L215.4 238.6L215.9 238.7L216.3 238.9L216.8 239.1L217.2 239.2L217.7 239.3L218.1 239.4L218.6 239.5L219.0 239.6M230.3 233.8L230.6 233.3L231.0 232.8L231.3 232.2L231.7 231.7L232.1 231.1L232.5 230.5L232.9 229.8L233.3 229.2L233.6 228.6L234.0 227.9L234.4 227.3L234.7 226.7L235.1 226.1L235.4 225.5L235.7 225.0L236.0 224.5M242.4 210.3L242.9 209.8L243.4 209.4L244.0 208.9L244.6 208.4L245.2 207.9L245.8 207.4L246.5 207.0L247.1 206.5L247.8 206.0L248.5 205.5L249.1 205.0L249.8 204.4L250.4 203.9L251.0 203.4M260.2 192.8L260.8 192.3L261.4 191.9L262.1 191.5L262.7 191.2L263.4 190.8L264.0 190.5L264.7 190.2L265.4 189.9L266.1 189.6L266.7 189.3L267.4 189.0L268.1 188.7L268.8 188.4L269.5 188.1L270.2 187.8L270.9 187.4M282.4 181.0L283.2 180.7L283.9 180.4L284.7 180.1L285.4 179.9L286.2 179.6L287.0 179.4L287.8 179.2L288.5 178.9L289.3 178.7L290.1 178.6L290.9 178.4L291.7 178.2L292.5 178.1L293.4 177.9L294.2 177.8M316.2 179.2L317.1 179.5L318.0 179.7L318.9 180.1L319.7 180.4L320.6 180.7L321.4 181.1L322.2 181.6L323.0 182.0L323.8 182.5L324.5 183.0L325.2 183.5L325.9 184.1L326.6 184.7M335.2 194.8L335.8 195.6L336.4 196.5L336.9 197.3L337.4 198.1L338.0 199.0L338.5 199.9L339.0 200.7L339.5 201.5L340.0 202.4L340.5 203.2L341.0 204.0L341.5 204.8L342.0 205.5M344.7 209.6L345.1 210.2L345.5 210.9L345.9 211.5L346.4 212.1L346.8 212.8L347.2 213.4L347.6 214.0L348.1 214.7L348.5 215.3L349.0 216.0L349.5 216.7L349.9 217.4M358.3 228.3L358.9 228.9L359.6 229.6L360.3 230.2L361.1 230.8L361.8 231.4L362.5 232.1L363.3 232.7L364.0 233.3L364.8 233.9L365.5 234.5M374.5 242.1L375.2 242.7L375.9 243.4L376.7 244.0L377.4 244.6L378.1 245.2L378.7 245.8L379.4 246.4L380.0 247.0L380.6 247.6L381.2 248.1L381.8 248.7L382.3 249.2L382.8 249.7L383.4 250.2M394.5 268.1L394.7 268.7L394.9 269.4L395.2 270.0L395.4 270.7L395.5 271.3L395.7 272.0L395.9 272.6L396.1 273.3L396.2 274.0L396.3 274.6L396.5 275.3L396.6 276.0L396.7 276.7L396.8 277.4L396.9 278.1L397.0 278.8L397.0 279.5M397.3 287.5L397.3 288.2L397.3 288.9L397.3 289.7L397.3 290.4L397.3 291.1L397.2 291.9L397.2 292.6L397.2 293.3L397.1 294.0L397.1 294.8L397.0 295.5L397.0 296.2L396.9 296.9L396.8 297.6L396.7 298.3L396.6 299.0M392.0 312.7L391.7 313.4L391.4 314.0L391.1 314.6L390.7 315.3L390.4 315.9L390.0 316.5L389.6 317.1L389.2 317.7L388.8 318.3L388.4 318.9L388.0 319.5L387.6 320.1L387.1 320.6L386.7 321.2L386.3 321.7L385.8 322.2M376.7 331.0L375.9 331.6L375.2 332.3L374.5 332.9L373.7 333.5L373.0 334.2L372.2 334.8L371.5 335.5L370.7 336.1L370.0 336.7L369.2 337.4L368.5 338.0L367.8 338.6M363.3 342.3L362.5 342.9L361.8 343.6L361.1 344.2L360.3 344.8L359.6 345.4L358.9 346.1L358.3 346.7L357.6 347.3L357.0 348.0M349.0 359.0L348.5 359.7L348.1 360.3L347.6 361.0L347.2 361.6L346.8 362.2L346.4 362.9L345.9 363.5L345.5 364.1L345.1 364.8L344.7 365.4L344.3 366.1L343.8 366.7L343.4 367.4L342.9 368.1L342.5 368.8M334.7 381.0L334.1 381.8L333.5 382.5L332.9 383.2L332.3 384.0L331.7 384.7L331.1 385.4L330.5 386.2L329.9 386.9L329.2 387.6L328.6 388.3L327.9 389.0L327.3 389.6M317.1 395.5L316.2 395.8L315.3 396.1L314.4 396.3L313.5 396.5L312.6 396.7L311.7 396.8L310.8 397.0L309.9 397.2L309.0 397.3L308.1 397.4L307.2 397.5L306.4 397.6M292.5 396.9L291.7 396.8L290.9 396.6L290.1 396.4L289.3 396.3L288.5 396.1L287.8 395.8L287.0 395.6L286.2 395.4L285.4 395.1L284.7 394.9L283.9 394.6L283.2 394.3L282.4 394.0L281.6 393.7L280.9 393.3L280.2 393.0M275.1 390.1L274.4 389.6L273.7 389.2L273.0 388.8L272.3 388.4L271.6 388.0L270.9 387.6L270.2 387.2L269.5 386.9L268.8 386.6M257.4 379.3L256.9 378.7L256.3 378.0L255.8 377.4L255.3 376.7L254.8 376.0L254.3 375.3L253.8 374.7L253.2 374.0L252.7 373.4L252.2 372.8L251.6 372.2L251.0 371.6M240.2 360.8L240.0 360.3L239.9 359.9L239.8 359.4L239.6 358.9L239.5 358.5L239.4 358.0L239.2 357.6L239.1 357.1L238.9 356.7L238.7 356.3L238.5 355.9L238.4 355.5L238.2 355.1L238.1 354.8L237.9 354.4L237.8 354.1L237.6 353.7L237.5 353.4L237.3 353.0L237.1 352.6L236.9 352.2L236.7 351.8M233.3 345.8L232.9 345.2L232.5 344.5L232.1 343.9L231.7 343.3L231.3 342.8L231.0 342.2L230.6 341.7L230.3 341.2L230.0 340.7L229.7 340.3L229.4 339.9L229.1 339.4L228.8 339.0L228.5 338.6L228.3 338.3L228.0 337.9M215.9 336.3L215.4 336.4L215.0 336.6L214.5 336.7L214.1 336.9L213.6 337.0L213.2 337.2L212.8 337.3L212.4 337.3L212.0 337.4L211.6 337.4L211.2 337.5L210.9 337.5L210.5 337.5L210.1 337.6L209.8 337.6L209.4 337.6L209.1 337.6L208.7 337.5L208.4 337.5L208.1 337.4L207.8 337.3L207.5 337.2L207.3 337.1L207.0 337.0L206.8 336.8L206.6 336.6L206.4 336.4L206.2 336.2L206.1 335.9L205.9 335.6L205.8 335.3L205.7 335.0L205.6 334.7L205.5 334.3L205.4 334.0L205.4 333.6L205.3 333.2L205.3 332.8L205.3 332.4M209.1 318.1L209.2 317.7L209.4 317.3L209.6 316.9L209.8 316.5L210.0 316.1L210.2 315.7L210.4 315.3L210.6 314.9L210.8 314.5L210.9 314.1L211.1 313.8L211.3 313.4L211.5 313.0L211.7 312.6L211.9 312.2L212.1 311.8L212.3 311.4L212.6 311.0L212.8 310.6L213.1 310.1L213.5 309.7L213.8 309.2L214.2 308.7M226.2 295.6L226.5 295.2L226.9 294.9L227.3 294.6L227.6 294.3L228.0 294.0L228.4 293.7L228.7 293.4L229.1 293.2L229.4 292.9L229.7 292.7L230.1 292.5L230.4 292.2L230.7 292.0L231.1 291.8L231.4 291.6L231.7 291.4L232.0 291.2L232.3 291.0L232.6 290.8L232.9 290.6L233.2 290.4L233.5 290.2L233.9 290.0L234.2 289.7L234.6 289.5L235.0 289.2L235.4 289.0L235.8 288.8L236.2 288.5L236.6 288.3L236.9 288.1L237.1 287.9L237.3 287.8L237.5 287.7L237.5 287.6L237.5 287.5L237.4 287.5L237.2 287.5L236.9 287.6L236.5 287.7L236.0 287.9L235.4 288.1L234.8 288.3L234.2 288.6L233.5 288.8M216.0 283.5L215.8 283.6L215.5 283.7L215.3 283.7L215.0 283.8L214.7 283.9L214.5 284.0L214.2 284.1L214.0 284.3L213.7 284.4L213.5 284.5L213.3 284.6L213.0 284.7L212.8 284.8L212.6 285.0L212.5 285.1L212.3 285.2L212.1 285.3L212.0 285.5L211.9 285.6L211.7 285.7L211.6 285.9L211.5 286.0L211.4 286.2L211.3 286.3L211.3 286.5L211.2 286.6L211.1 286.8L211.1 286.9L211.0 287.1L211.0 287.2L211.0 287.4L211.0 287.5L211.0 287.6L211.0 287.8L211.0 287.9L211.1 288.1L211.1 288.2L211.2 288.4L211.3 288.5L211.3 288.7L211.4 288.8L211.5 289.0L211.6 289.1L211.7 289.3L211.9 289.4L212.0 289.5L212.1 289.7L212.3 289.8L212.5 289.9L212.6 290.0L212.8 290.2L213.0 290.3L213.3 290.4L213.5 290.5L213.7 290.6L214.0 290.8L214.2 290.9L214.5 291.0L214.7 291.1L215.0 291.2M225.0 278.4L225.4 278.8L225.8 279.1L226.2 279.4L226.5 279.8L226.9 280.1L227.3 280.4L227.6 280.7L228.0 281.0L228.4 281.3L228.7 281.6L229.1 281.8L229.4 282.1L229.7 282.3L230.1 282.5L230.4 282.8L230.7 283.0L231.1 283.2L231.4 283.4L231.7 283.6L232.0 283.8L232.3 284.0L232.6 284.2L232.9 284.4L233.2 284.6M213.8 265.8L214.2 266.3L214.6 266.9L215.0 267.4L215.5 268.0L216.0 268.6L216.5 269.2L217.0 269.9L217.6 270.5L218.1 271.1L218.7 271.7L219.2 272.4L219.7 272.9L220.3 273.5L220.8 274.1L221.2 274.6L221.7 275.1M226.2 239.0L225.0 239.6M239.2 217.7L238.6 218.9M255.7 197.8L254.9 198.8M277.1 183.7L276.0 184.4M300.8 177.2L299.5 177.3M309.6 177.8L308.4 177.6M330.9 189.3L330.1 188.3M353.6 222.8L352.8 221.7M372.0 240.0L371.0 239.1M387.5 254.9L386.7 253.9M392.0 262.2L391.4 261.1M394.5 306.9L394.9 305.7M380.7 327.3L381.7 326.4M352.4 354.0L353.1 352.9M338.2 375.7L338.8 374.6M320.8 394.2L322.0 393.6M297.8 397.6L299.0 397.7M244.7 366.7L245.7 367.5M220.9 335.2L222.2 335.1M206.9 323.9L206.6 325.1M220.2 301.6L219.3 302.5M221.2 300.4L220.3 301.4M209.9 258.7L210.5 259.9" fill="none" stroke="#000000" stroke-width="4.8"/><circle cx="262.9" cy="382.8" r="2.7" fill="#000000"/>
<circle cx="237.4" cy="287.5" r="3.8" fill="#fff" stroke="#000" stroke-width="1"/>
<g fill="none" stroke="#000" stroke-width="1.6" stroke-dasharray="1.8 6.7">
<circle cx="976.5" cy="287.5" r="40.0"/>
<circle cx="976.5" cy="287.5" r="80.1"/>
<circle cx="976.5" cy="287.5" r="120.1"/>
<circle cx="976.5" cy="287.5" r="160.2"/>
</g>
<g fill="none" stroke="#000" stroke-width="1.6" stroke-dasharray="1.8 6.78" stroke-dashoffset="5.86">
<path d="M976.5 287.5L1176.7 287.5"/>
<path d="M976.5 287.5L1149.9 187.4"/>
<path d="M976.5 287.5L1076.6 114.1"/>
<path d="M976.5 287.5L976.5 87.3"/>
<path d="M976.5 287.5L876.4 114.1"/>
<path d="M976.5 287.5L803.1 187.4"/>
<path d="M976.5 287.5L776.3 287.5"/>
<path d="M976.5 287.5L803.1 387.6"/>
<path d="M976.5 287.5L876.4 460.9"/>
<path d="M976.5 287.5L976.5 487.7"/>
<path d="M976.5 287.5L1076.6 460.9"/>
<path d="M976.5 287.5L1149.9 387.6"/>
</g>
<circle cx="976.5" cy="287.5" r="200.2" fill="none" stroke="#000" stroke-width="2.2"/>
<g font-family="'Liberation Sans', sans-serif" font-size="19.6" fill="#000">
<text x="1197.1" y="294.7" text-anchor="middle">0</text>
<text x="1167.5" y="184.4" text-anchor="middle">30</text>
<text x="1086.8" y="103.7" text-anchor="middle">60</text>
<text x="976.5" y="74.1" text-anchor="middle">90</text>
<text x="866.2" y="103.7" text-anchor="middle">120</text>
<text x="785.5" y="184.4" text-anchor="middle">150</text>
<text x="755.9" y="294.7" text-anchor="middle">180</text>
<text x="785.5" y="405.0" text-anchor="middle">210</text>
<text x="866.2" y="485.7" text-anchor="middle">240</text>
<text x="976.5" y="515.3" text-anchor="middle">270</text>
<text x="1086.8" y="485.7" text-anchor="middle">300</text>
<text x="1167.5" y="405.0" text-anchor="middle">330</text>
<text x="992.6" y="241.6">1</text>
<text x="998.1" y="201.9">2</text>
<text x="1003.7" y="162.3">3</text>
<text x="1009.3" y="122.6">4</text>
<text x="1014.8" y="83.0">5</text>
</g>
<path d="M1042.6 287.5L1042.6 287.2L1042.6 286.9L1042.6 286.6L1042.6 286.3L1042.6 286.1L1042.5 285.8L1042.5 285.5L1042.5 285.2L1042.5 284.9L1042.5 284.6L1042.4 284.3L1042.4 284.0L1042.4 283.8L1042.3 283.5L1042.3 283.2L1042.2 282.9L1042.2 282.6L1042.2 282.3L1042.1 282.1L1042.1 281.8L1042.0 281.5L1041.9 281.2L1041.9 280.9L1041.8 280.6L1041.8 280.4L1041.7 280.1L1041.6 279.8L1041.5 279.5L1041.5 279.2L1041.4 279.0L1041.3 278.7L1041.2 278.4L1041.1 278.1L1041.0 277.9L1041.0 277.6L1040.9 277.3L1040.8 277.0L1040.7 276.8L1040.6 276.5L1040.5 276.2L1040.4 276.0L1040.2 275.7L1040.1 275.4L1040.0 275.2L1039.9 274.9L1039.8 274.6L1039.7 274.4L1039.5 274.1L1039.4 273.8L1039.3 273.6L1039.2 273.3L1039.0 273.1L1038.9 272.8L1038.8 272.6L1038.6 272.3L1038.5 272.0L1038.3 271.8L1038.2 271.5L1038.0 271.3L1037.9 271.1L1037.7 270.8L1037.6 270.6L1037.4 270.3L1037.2 270.1L1037.1 269.8L1036.9 269.6L1036.8 269.4L1036.6 269.1L1036.4 268.9L1036.2 268.7L1036.1 268.4L1035.9 268.2L1035.7 268.0L1035.5 267.8L1035.3 267.5L1035.1 267.3L1035.0 267.1L1034.8 266.9L1034.6 266.6L1034.4 266.4L1034.2 266.2L1034.0 266.0L1033.8 265.8L1033.6 265.6L1033.4 265.4L1033.2 265.2L1033.0 265.0L1032.8 264.8L1032.6 264.6L1032.3 264.4L1032.1 264.2L1031.9 264.0L1031.7 263.8L1031.5 263.6L1031.3 263.4L1031.0 263.2L1030.8 263.0L1030.6 262.9L1030.4 262.7L1030.1 262.5L1029.9 262.3L1029.7 262.1L1029.4 262.0L1029.2 261.8L1029.0 261.6L1028.7 261.5L1028.5 261.3L1028.2 261.1L1028.0 261.0L1027.8 260.8L1027.5 260.7L1027.3 260.5L1027.0 260.4L1026.8 260.2L1026.5 260.1L1026.3 259.9L1026.0 259.8L1025.8 259.6L1025.5 259.5L1025.3 259.4L1025.0 259.2L1024.7 259.1L1024.5 259.0L1024.2 258.8L1024.0 258.7L1023.7 258.6L1023.4 258.5L1023.2 258.3L1022.9 258.2L1022.6 258.1L1022.4 258.0L1022.1 257.9L1021.8 257.8L1021.6 257.7L1021.3 257.6L1021.0 257.5L1020.8 257.4L1020.5 257.3L1020.2 257.2L1019.9 257.1L1019.7 257.0L1019.4 256.9L1019.1 256.8L1018.9 256.7L1018.6 256.6L1018.3 256.6L1018.0 256.5L1017.8 256.4L1017.5 256.3L1017.2 256.3L1016.9 256.2L1016.6 256.1L1016.4 256.1L1016.1 256.0L1015.8 256.0L1015.5 255.9L1015.2 255.8L1015.0 255.8L1014.7 255.7L1014.4 255.7L1014.1 255.6L1013.8 255.6L1013.6 255.6L1013.3 255.5L1013.0 255.5L1012.7 255.5L1012.4 255.4L1012.2 255.4L1011.9 255.4L1011.6 255.3L1011.3 255.3L1011.0 255.3L1010.8 255.3L1010.5 255.3L1010.2 255.2L1009.9 255.2L1009.6 255.2L1009.4 255.2L1009.1 255.2L1008.8 255.2L1008.5 255.2L1008.3 255.2L1008.0 255.2L1007.7 255.2L1007.4 255.2L1007.2 255.2L1006.9 255.2L1006.6 255.2L1006.3 255.2L1006.1 255.2L1005.8 255.3L1005.5 255.3L1005.2 255.3L1005.0 255.3L1004.7 255.3L1004.4 255.4L1004.2 255.4L1003.9 255.4L1003.6 255.4L1003.4 255.5L1003.1 255.5L1002.8 255.5L1002.6 255.6L1002.3 255.6L1002.1 255.7L1001.8 255.7L1001.5 255.8L1001.3 255.8L1001.0 255.8L1000.8 255.9L1000.5 255.9L1000.2 256.0L1000.0 256.0L999.7 256.1L999.5 256.2L999.2 256.2L999.0 256.3L998.7 256.3L998.5 256.4L998.2 256.5L998.0 256.5L997.7 256.6L997.5 256.7L997.3 256.7L997.0 256.8L996.8 256.9L996.5 256.9L996.3 257.0L996.1 257.1L995.8 257.2L995.6 257.2L995.4 257.3L995.1 257.4L994.9 257.5L994.7 257.6L994.4 257.6L994.2 257.7L994.0 257.8L993.8 257.9L993.5 258.0L993.3 258.1L993.1 258.2L992.9 258.2L992.7 258.3L992.5 258.4L992.2 258.5L992.0 258.6L991.8 258.7L991.6 258.8L991.4 258.9L991.2 259.0L991.0 259.1L990.8 259.2L990.6 259.3L990.4 259.4L990.2 259.5L990.0 259.6L989.8 259.7L989.6 259.8L989.4 259.9L989.2 260.0L989.0 260.1L988.8 260.2L988.6 260.3L988.4 260.4L988.3 260.5L988.1 260.6L987.9 260.7L987.7 260.8L987.5 260.9L987.4 261.0L987.2 261.1L987.0 261.2L986.8 261.3L986.7 261.4L986.5 261.5L986.3 261.6L986.1 261.7L986.0 261.8L985.8 261.9L985.7 262.0L985.5 262.1L985.3 262.2L985.2 262.3L985.0 262.4L984.9 262.5L984.7 262.6L984.6 262.7L984.4 262.8L984.2 262.9L984.1 263.0L984.0 263.1L983.8 263.2L983.7 263.3L983.5 263.4L983.4 263.5L983.2 263.6L983.1 263.7L983.0 263.8L982.8 263.9L982.7 264.0L982.5 264.1L982.4 264.2L982.3 264.3L982.2 264.4L982.0 264.5L981.9 264.6L981.8 264.7L981.6 264.8L981.5 264.9L981.4 264.9L981.3 265.0L981.2 265.1L981.0 265.2L980.9 265.3L980.8 265.4L980.7 265.5L980.6 265.6L980.5 265.6L980.3 265.7L980.2 265.8L980.1 265.9L980.0 266.0L979.9 266.0L979.8 266.1L979.7 266.2L979.6 266.3L979.5 266.3L979.4 266.4L979.3 266.5L979.2 266.6L979.1 266.6L979.0 266.7L978.9 266.8L978.8 266.8L978.7 266.9L978.6 267.0L978.5 267.0L978.4 267.1L978.3 267.2L978.2 267.2L978.1 267.3L978.0 267.3L977.9 267.4L977.8 267.4L977.7 267.5L977.6 267.6L977.5 267.6L977.5 267.7L977.4 267.7L977.3 267.8L977.2 267.8L977.1 267.8L977.0 267.9L976.9 267.9L976.8 268.0L976.8 268.0L976.7 268.1L976.6 268.1L976.5 268.1L976.4 268.2L976.3 268.2L976.2 268.2L976.2 268.3L976.1 268.3L976.0 268.3L975.9 268.3L975.8 268.4L975.7 268.4L975.7 268.4L975.6 268.4L975.5 268.5L975.4 268.5L975.3 268.5L975.3 268.5L975.2 268.5L975.1 268.5L975.0 268.5L974.9 268.6L974.8 268.6L974.8 268.6L974.7 268.6L974.6 268.6L974.5 268.6L974.4 268.6L974.3 268.6L974.3 268.6L974.2 268.6L974.1 268.6L974.0 268.6L973.9 268.6L973.8 268.6L973.8 268.6L973.7 268.6L973.6 268.5L973.5 268.5L973.4 268.5L973.3 268.5L973.2 268.5L973.1 268.5L973.1 268.5L973.0 268.4L972.9 268.4L972.8 268.4L972.7 268.4L972.6 268.4L972.5 268.3L972.4 268.3L972.3 268.3L972.2 268.2L972.1 268.2L972.0 268.2L971.9 268.2L971.8 268.1L971.8 268.1L971.7 268.1L971.6 268.0L971.5 268.0L971.4 267.9L971.2 267.9L971.1 267.9L971.0 267.8L970.9 267.8L970.8 267.7L970.7 267.7L970.6 267.7L970.5 267.6L970.4 267.6L970.3 267.5L970.2 267.5L970.1 267.4L970.0 267.4L969.8 267.3L969.7 267.3L969.6 267.2L969.5 267.2L969.4 267.1L969.3 267.1L969.1 267.0L969.0 267.0L968.9 266.9L968.8 266.8L968.7 266.8L968.5 266.7L968.4 266.7L968.3 266.6L968.1 266.6L968.0 266.5L967.9 266.4L967.8 266.4L967.6 266.3L967.5 266.3L967.3 266.2L967.2 266.1L967.1 266.1L966.9 266.0L966.8 266.0L966.7 265.9L966.5 265.8L966.4 265.8L966.2 265.7L966.1 265.6L965.9 265.6L965.8 265.5L965.6 265.5L965.5 265.4L965.3 265.3L965.2 265.3L965.0 265.2L964.9 265.1L964.7 265.1L964.5 265.0L964.4 264.9L964.2 264.9L964.1 264.8L963.9 264.8L963.7 264.7L963.6 264.6L963.4 264.6L963.2 264.5L963.1 264.4L962.9 264.4L962.7 264.3L962.5 264.3L962.4 264.2L962.2 264.1L962.0 264.1L961.8 264.0L961.7 264.0L961.5 263.9L961.3 263.9L961.1 263.8L960.9 263.7L960.7 263.7L960.6 263.6L960.4 263.6L960.2 263.5L960.0 263.5L959.8 263.4L959.6 263.4L959.4 263.3L959.2 263.3L959.0 263.2L958.8 263.2L958.6 263.1L958.4 263.1L958.2 263.0L958.0 263.0L957.8 262.9L957.6 262.9L957.4 262.8L957.2 262.8L957.0 262.8L956.8 262.7L956.6 262.7L956.4 262.7L956.2 262.6L956.0 262.6L955.7 262.5L955.5 262.5L955.3 262.5L955.1 262.5L954.9 262.4L954.7 262.4L954.5 262.4L954.2 262.3L954.0 262.3L953.8 262.3L953.6 262.3L953.4 262.3L953.1 262.2L952.9 262.2L952.7 262.2L952.5 262.2L952.2 262.2L952.0 262.2L951.8 262.1L951.6 262.1L951.3 262.1L951.1 262.1L950.9 262.1L950.7 262.1L950.4 262.1L950.2 262.1L950.0 262.1L949.7 262.1L949.5 262.1L949.3 262.1L949.1 262.1L948.8 262.1L948.6 262.1L948.4 262.2L948.1 262.2L947.9 262.2L947.7 262.2L947.4 262.2L947.2 262.2L947.0 262.3L946.7 262.3L946.5 262.3L946.3 262.3L946.0 262.4L945.8 262.4L945.6 262.4L945.3 262.5L945.1 262.5L944.8 262.5L944.6 262.6L944.4 262.6L944.1 262.7L943.9 262.7L943.7 262.8L943.4 262.8L943.2 262.9L943.0 262.9L942.7 263.0L942.5 263.0L942.3 263.1L942.0 263.1L941.8 263.2L941.6 263.3L941.3 263.3L941.1 263.4L940.9 263.5L940.6 263.5L940.4 263.6L940.2 263.7L940.0 263.8L939.7 263.8L939.5 263.9L939.3 264.0L939.0 264.1L938.8 264.2L938.6 264.3L938.4 264.4L938.1 264.4L937.9 264.5L937.7 264.6L937.5 264.7L937.2 264.8L937.0 264.9L936.8 265.0L936.6 265.1L936.4 265.3L936.1 265.4L935.9 265.5L935.7 265.6L935.5 265.7L935.3 265.8L935.1 265.9L934.9 266.1L934.6 266.2L934.4 266.3L934.2 266.4L934.0 266.5L933.8 266.7L933.6 266.8L933.4 266.9L933.2 267.1L933.0 267.2L932.8 267.4L932.6 267.5L932.4 267.6L932.2 267.8L932.0 267.9L931.8 268.1L931.6 268.2L931.4 268.4L931.2 268.5L931.0 268.7L930.9 268.8L930.7 269.0L930.5 269.1L930.3 269.3L930.1 269.5L929.9 269.6L929.8 269.8L929.6 270.0L929.4 270.1L929.2 270.3L929.1 270.5L928.9 270.6L928.7 270.8L928.6 271.0L928.4 271.2L928.2 271.3L928.1 271.5L927.9 271.7L927.7 271.9L927.6 272.1L927.4 272.3L927.3 272.5L927.1 272.6L927.0 272.8L926.8 273.0L926.7 273.2L926.5 273.4L926.4 273.6L926.3 273.8L926.1 274.0L926.0 274.2L925.8 274.4L925.7 274.6L925.6 274.8L925.5 275.0L925.3 275.2L925.2 275.4L925.1 275.6L925.0 275.8L924.8 276.0L924.7 276.3L924.6 276.5L924.5 276.7L924.4 276.9L924.3 277.1L924.2 277.3L924.1 277.5L924.0 277.8L923.9 278.0L923.8 278.2L923.7 278.4L923.6 278.6L923.5 278.9L923.4 279.1L923.3 279.3L923.3 279.5L923.2 279.8L923.1 280.0L923.0 280.2L923.0 280.4L922.9 280.7L922.8 280.9L922.7 281.1L922.7 281.4L922.6 281.6L922.6 281.8L922.5 282.1L922.5 282.3L922.4 282.5L922.3 282.8L922.3 283.0L922.3 283.2L922.2 283.5L922.2 283.7L922.1 283.9L922.1 284.2L922.1 284.4L922.0 284.6L922.0 284.9L922.0 285.1L922.0 285.4L921.9 285.6L921.9 285.8L921.9 286.1L921.9 286.3L921.9 286.5L921.9 286.8L921.9 287.0L921.9 287.3L921.9 287.5L921.9 287.7L921.9 288.0L921.9 288.2L921.9 288.5L921.9 288.7L921.9 288.9L921.9 289.2L921.9 289.4L922.0 289.6L922.0 289.9L922.0 290.1L922.0 290.4L922.1 290.6L922.1 290.8L922.1 291.1L922.2 291.3L922.2 291.5L922.3 291.8L922.3 292.0L922.3 292.2L922.4 292.5L922.5 292.7L922.5 292.9L922.6 293.2L922.6 293.4L922.7 293.6L922.7 293.9L922.8 294.1L922.9 294.3L923.0 294.6L923.0 294.8L923.1 295.0L923.2 295.2L923.3 295.5L923.3 295.7L923.4 295.9L923.5 296.1L923.6 296.4L923.7 296.6L923.8 296.8L923.9 297.0L924.0 297.2L924.1 297.5L924.2 297.7L924.3 297.9L924.4 298.1L924.5 298.3L924.6 298.5L924.7 298.7L924.8 299.0L925.0 299.2L925.1 299.4L925.2 299.6L925.3 299.8L925.5 300.0L925.6 300.2L925.7 300.4L925.8 300.6L926.0 300.8L926.1 301.0L926.3 301.2L926.4 301.4L926.5 301.6L926.7 301.8L926.8 302.0L927.0 302.2L927.1 302.4L927.3 302.5L927.4 302.7L927.6 302.9L927.7 303.1L927.9 303.3L928.1 303.5L928.2 303.7L928.4 303.8L928.6 304.0L928.7 304.2L928.9 304.4L929.1 304.5L929.2 304.7L929.4 304.9L929.6 305.0L929.8 305.2L929.9 305.4L930.1 305.5L930.3 305.7L930.5 305.9L930.7 306.0L930.9 306.2L931.0 306.3L931.2 306.5L931.4 306.6L931.6 306.8L931.8 306.9L932.0 307.1L932.2 307.2L932.4 307.4L932.6 307.5L932.8 307.6L933.0 307.8L933.2 307.9L933.4 308.1L933.6 308.2L933.8 308.3L934.0 308.5L934.2 308.6L934.4 308.7L934.6 308.8L934.9 308.9L935.1 309.1L935.3 309.2L935.5 309.3L935.7 309.4L935.9 309.5L936.1 309.6L936.4 309.7L936.6 309.9L936.8 310.0L937.0 310.1L937.2 310.2L937.5 310.3L937.7 310.4L937.9 310.5L938.1 310.6L938.4 310.6L938.6 310.7L938.8 310.8L939.0 310.9L939.3 311.0L939.5 311.1L939.7 311.2L940.0 311.2L940.2 311.3L940.4 311.4L940.6 311.5L940.9 311.5L941.1 311.6L941.3 311.7L941.6 311.7L941.8 311.8L942.0 311.9L942.3 311.9L942.5 312.0L942.7 312.0L943.0 312.1L943.2 312.1L943.4 312.2L943.7 312.2L943.9 312.3L944.1 312.3L944.4 312.4L944.6 312.4L944.8 312.5L945.1 312.5L945.3 312.5L945.6 312.6L945.8 312.6L946.0 312.6L946.3 312.7L946.5 312.7L946.7 312.7L947.0 312.7L947.2 312.8L947.4 312.8L947.7 312.8L947.9 312.8L948.1 312.8L948.4 312.8L948.6 312.9L948.8 312.9L949.1 312.9L949.3 312.9L949.5 312.9L949.7 312.9L950.0 312.9L950.2 312.9L950.4 312.9L950.7 312.9L950.9 312.9L951.1 312.9L951.3 312.9L951.6 312.9L951.8 312.9L952.0 312.8L952.2 312.8L952.5 312.8L952.7 312.8L952.9 312.8L953.1 312.8L953.4 312.7L953.6 312.7L953.8 312.7L954.0 312.7L954.2 312.7L954.5 312.6L954.7 312.6L954.9 312.6L955.1 312.5L955.3 312.5L955.5 312.5L955.7 312.5L956.0 312.4L956.2 312.4L956.4 312.3L956.6 312.3L956.8 312.3L957.0 312.2L957.2 312.2L957.4 312.2L957.6 312.1L957.8 312.1L958.0 312.0L958.2 312.0L958.4 311.9L958.6 311.9L958.8 311.8L959.0 311.8L959.2 311.7L959.4 311.7L959.6 311.6L959.8 311.6L960.0 311.5L960.2 311.5L960.4 311.4L960.6 311.4L960.7 311.3L960.9 311.3L961.1 311.2L961.3 311.1L961.5 311.1L961.7 311.0L961.8 311.0L962.0 310.9L962.2 310.9L962.4 310.8L962.5 310.7L962.7 310.7L962.9 310.6L963.1 310.6L963.2 310.5L963.4 310.4L963.6 310.4L963.7 310.3L963.9 310.2L964.1 310.2L964.2 310.1L964.4 310.1L964.5 310.0L964.7 309.9L964.9 309.9L965.0 309.8L965.2 309.7L965.3 309.7L965.5 309.6L965.6 309.5L965.8 309.5L965.9 309.4L966.1 309.4L966.2 309.3L966.4 309.2L966.5 309.2L966.7 309.1L966.8 309.0L966.9 309.0L967.1 308.9L967.2 308.9L967.3 308.8L967.5 308.7L967.6 308.7L967.8 308.6L967.9 308.6L968.0 308.5L968.1 308.4L968.3 308.4L968.4 308.3L968.5 308.3L968.7 308.2L968.8 308.2L968.9 308.1L969.0 308.0L969.1 308.0L969.3 307.9L969.4 307.9L969.5 307.8L969.6 307.8L969.7 307.7L969.8 307.7L970.0 307.6L970.1 307.6L970.2 307.5L970.3 307.5L970.4 307.4L970.5 307.4L970.6 307.3L970.7 307.3L970.8 307.3L970.9 307.2L971.0 307.2L971.1 307.1L971.2 307.1L971.4 307.1L971.5 307.0L971.6 307.0L971.7 306.9L971.8 306.9L971.8 306.9L971.9 306.8L972.0 306.8L972.1 306.8L972.2 306.8L972.3 306.7L972.4 306.7L972.5 306.7L972.6 306.6L972.7 306.6L972.8 306.6L972.9 306.6L973.0 306.6L973.1 306.5L973.1 306.5L973.2 306.5L973.3 306.5L973.4 306.5L973.5 306.5L973.6 306.5L973.7 306.4L973.8 306.4L973.8 306.4L973.9 306.4L974.0 306.4L974.1 306.4L974.2 306.4L974.3 306.4L974.3 306.4L974.4 306.4L974.5 306.4L974.6 306.4L974.7 306.4L974.8 306.4L974.8 306.4L974.9 306.4L975.0 306.5L975.1 306.5L975.2 306.5L975.3 306.5L975.3 306.5L975.4 306.5L975.5 306.5L975.6 306.6L975.7 306.6L975.7 306.6L975.8 306.6L975.9 306.7L976.0 306.7L976.1 306.7L976.2 306.7L976.2 306.8L976.3 306.8L976.4 306.8L976.5 306.9L976.6 306.9L976.7 306.9L976.8 307.0L976.8 307.0L976.9 307.1L977.0 307.1L977.1 307.2L977.2 307.2L977.3 307.2L977.4 307.3L977.5 307.3L977.5 307.4L977.6 307.4L977.7 307.5L977.8 307.6L977.9 307.6L978.0 307.7L978.1 307.7L978.2 307.8L978.3 307.8L978.4 307.9L978.5 308.0L978.6 308.0L978.7 308.1L978.8 308.2L978.9 308.2L979.0 308.3L979.1 308.4L979.2 308.4L979.3 308.5L979.4 308.6L979.5 308.7L979.6 308.7L979.7 308.8L979.8 308.9L979.9 309.0L980.0 309.0L980.1 309.1L980.2 309.2L980.3 309.3L980.5 309.4L980.6 309.4L980.7 309.5L980.8 309.6L980.9 309.7L981.0 309.8L981.2 309.9L981.3 310.0L981.4 310.1L981.5 310.1L981.6 310.2L981.8 310.3L981.9 310.4L982.0 310.5L982.2 310.6L982.3 310.7L982.4 310.8L982.5 310.9L982.7 311.0L982.8 311.1L983.0 311.2L983.1 311.3L983.2 311.4L983.4 311.5L983.5 311.6L983.7 311.7L983.8 311.8L984.0 311.9L984.1 312.0L984.2 312.1L984.4 312.2L984.6 312.3L984.7 312.4L984.9 312.5L985.0 312.6L985.2 312.7L985.3 312.8L985.5 312.9L985.7 313.0L985.8 313.1L986.0 313.2L986.1 313.3L986.3 313.4L986.5 313.5L986.7 313.6L986.8 313.7L987.0 313.8L987.2 313.9L987.4 314.0L987.5 314.1L987.7 314.2L987.9 314.3L988.1 314.4L988.3 314.5L988.4 314.6L988.6 314.7L988.8 314.8L989.0 314.9L989.2 315.0L989.4 315.1L989.6 315.2L989.8 315.3L990.0 315.4L990.2 315.5L990.4 315.6L990.6 315.7L990.8 315.8L991.0 315.9L991.2 316.0L991.4 316.1L991.6 316.2L991.8 316.3L992.0 316.4L992.2 316.5L992.5 316.6L992.7 316.7L992.9 316.8L993.1 316.8L993.3 316.9L993.5 317.0L993.8 317.1L994.0 317.2L994.2 317.3L994.4 317.4L994.7 317.4L994.9 317.5L995.1 317.6L995.4 317.7L995.6 317.8L995.8 317.8L996.1 317.9L996.3 318.0L996.5 318.1L996.8 318.1L997.0 318.2L997.3 318.3L997.5 318.3L997.7 318.4L998.0 318.5L998.2 318.5L998.5 318.6L998.7 318.7L999.0 318.7L999.2 318.8L999.5 318.8L999.7 318.9L1000.0 319.0L1000.2 319.0L1000.5 319.1L1000.8 319.1L1001.0 319.2L1001.3 319.2L1001.5 319.2L1001.8 319.3L1002.1 319.3L1002.3 319.4L1002.6 319.4L1002.8 319.5L1003.1 319.5L1003.4 319.5L1003.6 319.6L1003.9 319.6L1004.2 319.6L1004.4 319.6L1004.7 319.7L1005.0 319.7L1005.2 319.7L1005.5 319.7L1005.8 319.7L1006.1 319.8L1006.3 319.8L1006.6 319.8L1006.9 319.8L1007.2 319.8L1007.4 319.8L1007.7 319.8L1008.0 319.8L1008.3 319.8L1008.5 319.8L1008.8 319.8L1009.1 319.8L1009.4 319.8L1009.6 319.8L1009.9 319.8L1010.2 319.8L1010.5 319.7L1010.8 319.7L1011.0 319.7L1011.3 319.7L1011.6 319.7L1011.9 319.6L1012.2 319.6L1012.4 319.6L1012.7 319.5L1013.0 319.5L1013.3 319.5L1013.6 319.4L1013.8 319.4L1014.1 319.4L1014.4 319.3L1014.7 319.3L1015.0 319.2L1015.2 319.2L1015.5 319.1L1015.8 319.0L1016.1 319.0L1016.4 318.9L1016.6 318.9L1016.9 318.8L1017.2 318.7L1017.5 318.7L1017.8 318.6L1018.0 318.5L1018.3 318.4L1018.6 318.4L1018.9 318.3L1019.1 318.2L1019.4 318.1L1019.7 318.0L1019.9 317.9L1020.2 317.8L1020.5 317.7L1020.8 317.6L1021.0 317.5L1021.3 317.4L1021.6 317.3L1021.8 317.2L1022.1 317.1L1022.4 317.0L1022.6 316.9L1022.9 316.8L1023.2 316.7L1023.4 316.5L1023.7 316.4L1024.0 316.3L1024.2 316.2L1024.5 316.0L1024.7 315.9L1025.0 315.8L1025.3 315.6L1025.5 315.5L1025.8 315.4L1026.0 315.2L1026.3 315.1L1026.5 314.9L1026.8 314.8L1027.0 314.6L1027.3 314.5L1027.5 314.3L1027.8 314.2L1028.0 314.0L1028.2 313.9L1028.5 313.7L1028.7 313.5L1029.0 313.4L1029.2 313.2L1029.4 313.0L1029.7 312.9L1029.9 312.7L1030.1 312.5L1030.4 312.3L1030.6 312.1L1030.8 312.0L1031.0 311.8L1031.3 311.6L1031.5 311.4L1031.7 311.2L1031.9 311.0L1032.1 310.8L1032.3 310.6L1032.6 310.4L1032.8 310.2L1033.0 310.0L1033.2 309.8L1033.4 309.6L1033.6 309.4L1033.8 309.2L1034.0 309.0L1034.2 308.8L1034.4 308.6L1034.6 308.4L1034.8 308.1L1035.0 307.9L1035.1 307.7L1035.3 307.5L1035.5 307.2L1035.7 307.0L1035.9 306.8L1036.1 306.6L1036.2 306.3L1036.4 306.1L1036.6 305.9L1036.8 305.6L1036.9 305.4L1037.1 305.2L1037.2 304.9L1037.4 304.7L1037.6 304.4L1037.7 304.2L1037.9 303.9L1038.0 303.7L1038.2 303.5L1038.3 303.2L1038.5 303.0L1038.6 302.7L1038.8 302.4L1038.9 302.2L1039.0 301.9L1039.2 301.7L1039.3 301.4L1039.4 301.2L1039.5 300.9L1039.7 300.6L1039.8 300.4L1039.9 300.1L1040.0 299.8L1040.1 299.6L1040.2 299.3L1040.4 299.0L1040.5 298.8L1040.6 298.5L1040.7 298.2L1040.8 298.0L1040.9 297.7L1041.0 297.4L1041.0 297.1L1041.1 296.9L1041.2 296.6L1041.3 296.3L1041.4 296.0L1041.5 295.8L1041.5 295.5L1041.6 295.2L1041.7 294.9L1041.8 294.6L1041.8 294.4L1041.9 294.1L1041.9 293.8L1042.0 293.5L1042.1 293.2L1042.1 292.9L1042.2 292.7L1042.2 292.4L1042.2 292.1L1042.3 291.8L1042.3 291.5L1042.4 291.2L1042.4 291.0L1042.4 290.7L1042.5 290.4L1042.5 290.1L1042.5 289.8L1042.5 289.5L1042.5 289.2L1042.6 288.9L1042.6 288.7L1042.6 288.4L1042.6 288.1L1042.6 287.8Z" fill="none" stroke="#0000ff" stroke-width="5.2"/>
<path d="M982.4 228.7L982.8 228.4L983.3 228.1L983.7 227.9L984.2 227.6L984.6 227.3L985.1 227.1L985.6 226.8L986.1 226.6L986.6 226.4L987.1 226.2L987.5 226.0L988.0 225.9L988.5 225.7L989.0 225.6L989.5 225.5L990.0 225.4L990.5 225.3L990.9 225.2L991.4 225.1L991.9 225.1L992.4 225.0L992.9 225.0L993.4 225.0M1003.8 227.3L1004.4 227.6L1004.9 227.8L1005.5 228.1L1006.0 228.4L1006.5 228.7L1007.0 229.0L1007.5 229.4L1008.0 229.8L1008.5 230.1L1009.0 230.5L1009.5 230.9L1010.0 231.4L1010.5 231.8L1010.9 232.2L1011.4 232.7L1011.8 233.1L1012.3 233.6M1014.6 236.5L1015.0 237.0L1015.3 237.5L1015.6 238.0L1015.9 238.5L1016.2 239.1L1016.6 239.6L1016.8 240.2L1017.1 240.7L1017.4 241.3L1017.7 241.8L1018.0 242.4L1018.2 242.9L1018.5 243.5L1018.8 244.1L1019.0 244.6L1019.3 245.2M1022.6 254.9L1022.8 255.5L1023.0 256.2L1023.1 256.8L1023.3 257.5L1023.5 258.1L1023.7 258.8L1023.9 259.4L1024.0 260.1L1024.2 260.8L1024.3 261.5L1024.5 262.1L1024.7 262.8L1024.8 263.5L1024.9 264.2L1025.1 264.9L1025.2 265.6M1026.7 275.8L1026.7 276.5L1026.8 277.3L1026.9 278.1L1026.9 278.8L1027.0 279.6L1027.1 280.4L1027.1 281.2L1027.1 282.0L1027.2 282.8L1027.2 283.6L1027.2 284.4L1027.3 285.1L1027.3 285.9L1027.3 286.7L1027.3 287.5L1027.3 288.3M1026.9 296.2L1026.9 296.9L1026.8 297.7L1026.7 298.5L1026.7 299.2L1026.6 300.0L1026.5 300.7L1026.4 301.5L1026.3 302.2L1026.3 303.0L1026.2 303.7L1026.0 304.4L1025.9 305.2L1025.8 305.9L1025.7 306.6M1023.5 316.9L1023.3 317.5L1023.1 318.2L1023.0 318.8L1022.8 319.5L1022.6 320.1L1022.4 320.7L1022.2 321.4L1022.0 322.0L1021.8 322.6L1021.6 323.2L1021.4 323.9L1021.2 324.5L1021.0 325.1L1020.8 325.7L1020.6 326.3L1020.4 326.9L1020.2 327.5M1015.6 337.0L1015.3 337.5L1015.0 338.0L1014.6 338.5L1014.3 339.0L1013.9 339.5L1013.5 340.0L1013.1 340.5L1012.7 340.9L1012.3 341.4L1011.8 341.9L1011.4 342.3L1010.9 342.8L1010.5 343.2L1010.0 343.6L1009.5 344.1L1009.0 344.5L1008.5 344.9L1008.0 345.2M999.2 349.2L998.6 349.4L998.1 349.5L997.5 349.6L997.0 349.7L996.5 349.8L995.9 349.8L995.4 349.9L994.9 349.9L994.4 350.0L993.9 350.0L993.4 350.0L992.9 350.0L992.4 350.0L991.9 349.9L991.4 349.9L990.9 349.8L990.5 349.7L990.0 349.6L989.5 349.5L989.0 349.4L988.5 349.3L988.0 349.1L987.5 349.0M984.6 347.7L984.2 347.4L983.7 347.1L983.3 346.9L982.8 346.6L982.4 346.3L981.9 345.9L981.5 345.6L981.1 345.3L980.7 344.9L980.3 344.5L979.9 344.1L979.5 343.7L979.1 343.3L978.7 342.9L978.4 342.4L978.0 342.0L977.6 341.5L977.3 341.0L976.9 340.5L976.6 340.0L976.3 339.5L975.9 339.0M971.2 329.6L971.0 329.0L970.8 328.4L970.5 327.7L970.3 327.0L970.1 326.4L969.9 325.7L969.7 325.0L969.5 324.3L969.4 323.6L969.2 322.9L969.0 322.2L968.9 321.5L968.7 320.8L968.6 320.1L968.4 319.4M967.5 307.7L967.5 307.0L967.5 306.3L967.6 305.7L967.6 305.0L967.7 304.4L967.7 303.7L967.8 303.0L967.9 302.4L968.0 301.8L968.1 301.1L968.2 300.5L968.3 299.9L968.4 299.3L968.5 298.7L968.7 298.1L968.8 297.5M965.5 296.0L965.0 296.1L964.5 296.2L964.0 296.3L963.5 296.4L963.0 296.4L962.5 296.5L962.0 296.5L961.5 296.6L961.0 296.6L960.5 296.7L960.0 296.7L959.5 296.7L959.0 296.8L958.5 296.8L957.9 296.9L957.4 296.9L956.9 296.9L956.4 297.0L955.8 297.0L955.3 297.0L954.8 297.0L954.3 296.9L953.8 296.9L953.3 296.8L952.9 296.8L952.4 296.7L952.0 296.6L951.6 296.5L951.2 296.3L950.8 296.2L950.4 296.0L950.0 295.9L949.7 295.7L949.3 295.5L949.0 295.3L948.6 295.0L948.3 294.8L948.0 294.5L947.7 294.3L947.4 294.0L947.1 293.8L946.9 293.5L946.6 293.2L946.4 292.9L946.1 292.6L945.9 292.3L945.6 291.9L945.4 291.6L945.2 291.2M946.4 282.1L946.6 281.8L946.9 281.5L947.1 281.2L947.4 281.0L947.7 280.7L948.0 280.5L948.3 280.2L948.6 280.0L949.0 279.8L949.3 279.5L949.7 279.3L950.0 279.1L950.4 279.0L950.8 278.8L951.2 278.7L951.6 278.5L952.0 278.4L952.4 278.3L952.9 278.2L953.3 278.2L953.8 278.1L954.3 278.1L954.8 278.0M966.5 279.3L967.0 279.5L967.5 279.7L968.0 280.0L968.5 280.3L969.1 280.7L969.7 281.2L970.4 281.7L971.0 282.3M968.4 255.6L968.3 256.3L968.2 257.0L968.1 257.7L968.0 258.4L967.9 259.1L967.8 259.8L967.8 260.5L967.7 261.2L967.6 261.9L967.6 262.6L967.5 263.3L967.5 263.9L967.5 264.6L967.5 265.3M974.6 238.1L974.3 238.7L974.0 239.2L973.7 239.8L973.4 240.4L973.1 241.0L972.8 241.6L972.5 242.2L972.3 242.8L972.0 243.5L971.7 244.1L971.5 244.7L971.2 245.4L971.0 246.0L970.8 246.6L970.5 247.3" fill="none" stroke="#ff0000" stroke-width="4.8"/>
<path d="M1001.3 273.9L1001.9 273.7L1002.5 273.4L1003.1 273.2L1003.8 272.9L1004.5 272.7L1005.1 272.4L1005.8 272.1L1006.6 271.9L1007.3 271.6L1008.0 271.4L1008.8 271.1L1009.5 270.9L1010.3 270.6L1011.1 270.4L1011.9 270.1L1012.7 269.9M1027.1 266.4L1028.0 266.2L1028.9 266.0L1029.8 265.8L1030.7 265.7L1031.6 265.5L1032.4 265.3L1033.3 265.1L1034.2 265.0L1035.1 264.8L1036.0 264.6L1036.9 264.5L1037.8 264.3M1052.7 262.2L1053.7 262.1L1054.8 262.0L1055.9 261.9L1056.9 261.8L1058.0 261.7L1059.1 261.6L1060.2 261.5L1061.3 261.4L1062.4 261.3L1063.6 261.2L1064.7 261.1M1089.0 260.1L1090.0 260.1L1091.0 260.2L1092.0 260.2L1093.0 260.3L1094.0 260.3L1095.0 260.4L1096.0 260.5L1097.1 260.6L1098.1 260.8L1099.1 260.9L1100.1 261.0M1115.4 263.5L1116.2 263.7L1117.0 263.8L1117.8 264.0L1118.6 264.2L1119.4 264.4L1120.2 264.6L1121.0 264.8L1121.8 265.0L1122.7 265.3L1123.5 265.5L1124.4 265.8L1125.2 266.1L1126.1 266.3L1126.9 266.6M1140.0 272.2L1140.4 272.4L1140.8 272.6L1141.2 272.8L1141.7 273.1L1142.1 273.3L1142.5 273.5L1142.9 273.7L1143.4 273.9L1143.8 274.2L1144.2 274.4L1144.6 274.7L1145.0 274.9L1145.4 275.2L1145.8 275.4L1146.1 275.7L1146.5 276.0L1146.8 276.3L1147.2 276.6L1147.5 276.9L1147.8 277.2L1148.2 277.6L1148.5 277.9L1148.8 278.3L1149.1 278.6L1149.4 279.0L1149.6 279.3L1149.9 279.7M1151.2 293.1L1151.0 293.5L1150.8 293.9L1150.6 294.2L1150.4 294.6L1150.2 294.9L1149.9 295.3L1149.6 295.7L1149.4 296.0L1149.1 296.4L1148.8 296.7L1148.5 297.1L1148.2 297.4L1147.8 297.8L1147.5 298.1L1147.2 298.4L1146.8 298.7L1146.5 299.0L1146.1 299.3L1145.8 299.6L1145.4 299.8L1145.0 300.1L1144.6 300.3L1144.2 300.6L1143.8 300.8L1143.4 301.1M1129.4 307.5L1128.6 307.8L1127.8 308.1L1126.9 308.4L1126.1 308.7L1125.2 308.9L1124.4 309.2L1123.5 309.5L1122.7 309.7L1121.8 310.0L1121.0 310.2L1120.2 310.4L1119.4 310.6L1118.6 310.8M1103.1 313.5L1102.1 313.7L1101.1 313.8L1100.1 314.0L1099.1 314.1L1098.1 314.2L1097.1 314.4L1096.0 314.5L1095.0 314.6L1094.0 314.7L1093.0 314.7L1092.0 314.8M1076.0 314.6L1074.9 314.6L1073.8 314.5L1072.7 314.4L1071.6 314.4L1070.5 314.3L1069.3 314.2L1068.2 314.1L1067.0 314.1L1065.9 314.0L1064.7 313.9M1042.6 311.4L1041.6 311.3L1040.6 311.2L1039.7 311.0L1038.8 310.8L1037.8 310.7L1036.9 310.5L1036.0 310.4L1035.1 310.2L1034.2 310.0L1033.3 309.9L1032.4 309.7L1031.6 309.5M1016.1 306.0L1015.2 305.8L1014.4 305.6L1013.5 305.3L1012.7 305.1L1011.9 304.9L1011.1 304.6L1010.3 304.4L1009.5 304.1L1008.8 303.9L1008.0 303.6L1007.3 303.4L1006.6 303.1L1005.8 302.9M991.9 296.1L991.3 295.8L990.7 295.5L990.2 295.1L989.6 294.8L989.0 294.4L988.4 294.0L987.8 293.7L987.3 293.3L986.7 293.0L986.1 292.6L985.6 292.3L985.0 292.0L984.4 291.7L983.8 291.3L983.1 291.0L982.5 290.6L981.8 290.2L981.1 289.8L980.4 289.4L979.7 289.1L979.1 288.7L978.5 288.4L978.0 288.2L977.5 287.9L977.1 287.7L976.8 287.6L976.6 287.5L976.5 287.5L976.5 287.6L976.7 287.6L977.0 287.8L977.4 288.0L977.8 288.2L978.3 288.5L978.9 288.8L979.5 289.1L980.2 289.5L980.8 289.9L981.5 290.3L982.1 290.8M988.1 270.4L987.9 271.1L987.7 271.8L987.5 272.6L987.3 273.3L987.1 274.1L986.9 274.9L986.6 275.7L986.4 276.6L986.2 277.4L985.9 278.1L985.7 278.9L985.4 279.7L985.1 280.4L984.8 281.0L984.5 281.6L984.1 282.2M989.8 244.6L990.0 245.0L990.1 245.4L990.3 245.8L990.4 246.3L990.5 246.7L990.6 247.2L990.7 247.6L990.8 248.1L990.9 248.5L991.0 249.0L991.0 249.5L991.1 250.0L991.1 250.5L991.1 251.0L991.2 251.5L991.2 252.0L991.2 252.5L991.2 253.0L991.2 253.6L991.2 254.1L991.2 254.7L991.2 255.2M978.5 242.8L978.4 243.1L978.3 243.4L978.1 243.8L978.0 244.1L977.8 244.5L977.6 244.9L977.5 245.4L977.3 245.9L977.2 246.4L977.0 246.9L976.9 247.5L976.7 248.0L976.5 248.6L976.4 249.2L976.3 249.8L976.1 250.4L976.0 251.0L975.9 251.6L975.7 252.1L975.6 252.7L975.5 253.2M973.8 269.3L973.8 269.9L973.9 270.5L973.9 271.0L973.9 271.7L974.0 272.3L974.1 272.9L974.1 273.5L974.2 274.1L974.3 274.8L974.4 275.4L974.5 276.0L974.5 276.6L974.6 277.2L974.7 277.8L974.8 278.4L974.9 279.0L975.0 279.6M965.7 265.8L966.1 266.4L966.5 267.1L966.9 267.8L967.3 268.5L967.7 269.3L968.1 270.1L968.6 270.9L969.0 271.7L969.4 272.5L969.9 273.4L970.3 274.2L970.7 275.0L971.1 275.8L971.5 276.6M947.4 245.8L947.8 246.2L948.3 246.7L948.8 247.1L949.3 247.6L949.8 248.1L950.3 248.7L950.9 249.2L951.4 249.7L952.0 250.3L952.5 250.8L953.0 251.4L953.5 251.9L954.0 252.4L954.5 252.9L955.0 253.4L955.4 253.8M932.6 247.6L932.7 247.9L932.8 248.2L933.0 248.5L933.1 248.8L933.3 249.1L933.5 249.4L933.7 249.7L933.9 250.0L934.1 250.3L934.3 250.7L934.5 251.0L934.7 251.3L935.0 251.7L935.2 252.0L935.5 252.4L935.8 252.7L936.1 253.1L936.4 253.4L936.8 253.8L937.1 254.1L937.4 254.5L937.8 254.9L938.1 255.2L938.4 255.6L938.8 256.0L939.1 256.3L939.4 256.7M949.7 268.7L950.1 269.1L950.6 269.6L951.0 270.0L951.5 270.5L951.9 270.9L952.4 271.4L952.9 271.9L953.4 272.4L953.9 272.9L954.4 273.4L955.0 273.9L955.5 274.3L956.0 274.8L956.6 275.3L957.1 275.7L957.7 276.2M958.8 282.6L959.4 282.7L960.0 282.7L960.6 282.8L961.2 282.9L961.8 283.0L962.4 283.1L963.0 283.2L963.7 283.3L964.3 283.4L965.0 283.6L965.7 283.8L966.5 284.0L967.4 284.3L968.2 284.6L969.2 284.9M933.1 281.9L933.7 281.9L934.3 281.8L935.0 281.8L935.6 281.8L936.3 281.8L937.0 281.8L937.7 281.8L938.4 281.8L939.1 281.8L939.8 281.8L940.5 281.8L941.2 281.8L941.9 281.9L942.6 281.9L943.3 281.9L944.0 281.9M924.2 283.6L923.8 283.8L923.3 284.1L922.9 284.3L922.5 284.6L922.2 284.9L921.8 285.2L921.5 285.5L921.2 285.8L920.9 286.1L920.6 286.4L920.5 286.7L920.3 286.9L920.2 287.2L920.2 287.5L920.2 287.8L920.3 288.1L920.5 288.3L920.6 288.6L920.9 288.9L921.2 289.2L921.5 289.5L921.8 289.8M921.5 289.5L921.8 289.8L922.2 290.1L922.5 290.4L922.9 290.7L923.3 290.9L923.8 291.2L924.2 291.4L924.6 291.6L925.0 291.8L925.4 292.0L925.8 292.1L926.3 292.2L926.7 292.4L927.2 292.5L927.7 292.6L928.2 292.6L928.7 292.7L929.2 292.8L929.7 292.8L930.3 292.9M946.1 293.1L946.8 293.0L947.5 293.0L948.2 293.0L948.9 293.0L949.6 293.0L950.3 293.0L950.9 292.9L951.6 292.9L952.3 292.9L953.0 292.8L953.7 292.8L954.3 292.8L955.0 292.7L955.6 292.6L956.3 292.6L956.9 292.5L957.5 292.5M952.9 303.1L952.4 303.6L951.9 304.1L951.5 304.5L951.0 305.0L950.6 305.4L950.1 305.9L949.7 306.3L949.3 306.7L948.9 307.1L948.6 307.5L948.2 307.9L947.9 308.3L947.5 308.6L947.2 309.0L946.9 309.3L946.6 309.7L946.3 310.0L946.0 310.4L945.7 310.7L945.4 311.1L945.1 311.5M932.6 331.1L932.7 331.5L932.8 331.8L932.9 332.2L933.0 332.5L933.2 332.9L933.3 333.2L933.5 333.5L933.7 333.7L933.8 334.0L934.0 334.2L934.2 334.4L934.4 334.6L934.6 334.7L934.8 334.8L935.0 335.0L935.2 335.1L935.4 335.2L935.7 335.2L935.9 335.3L936.2 335.3L936.4 335.4L936.7 335.4L936.9 335.4L937.2 335.4L937.4 335.4L937.7 335.4L938.0 335.4L938.2 335.4L938.5 335.3L938.7 335.3L939.0 335.2L939.2 335.1L939.5 335.1L939.7 335.0L940.0 334.9L940.3 334.7L940.6 334.6M952.0 324.7L952.5 324.2L953.0 323.6L953.5 323.1L954.0 322.6L954.5 322.1L955.0 321.6L955.4 321.2L955.8 320.8L956.2 320.4L956.5 320.0L956.9 319.6L957.2 319.3L957.6 318.9L957.9 318.6L958.2 318.2L958.5 317.9L958.8 317.6L959.1 317.2L959.4 316.9M965.3 309.8L965.7 309.2L966.1 308.6L966.5 307.9L966.9 307.2L967.3 306.5L967.7 305.7L968.1 304.9L968.6 304.1L969.0 303.3L969.4 302.5L969.9 301.6L970.3 300.8L970.7 300.0M973.9 308.9L973.9 309.5L974.0 310.0L974.0 310.5L974.1 311.0L974.1 311.5L974.2 312.0L974.2 312.5L974.3 313.0L974.3 313.5L974.4 314.0L974.5 314.5L974.5 315.0L974.6 315.5L974.6 316.0L974.7 316.4L974.7 316.9L974.8 317.4L974.8 317.9L974.9 318.4L975.0 318.8M979.7 333.8L979.9 334.0L980.1 334.2L980.3 334.3L980.5 334.5L980.7 334.7L981.0 334.8L981.3 335.0L981.6 335.2L981.9 335.3L982.2 335.5L982.5 335.6L982.8 335.7L983.2 335.8L983.5 335.9L983.8 336.0L984.2 336.0L984.5 336.0L984.8 336.0L985.1 335.9L985.4 335.8L985.7 335.7L986.0 335.5L986.3 335.2L986.6 335.0L986.9 334.7L987.2 334.4L987.5 334.0L987.8 333.6L988.1 333.3L988.4 332.9L988.7 332.5M990.9 316.3L990.9 315.7L990.8 315.2L990.7 314.6L990.6 314.0L990.5 313.4L990.4 312.9L990.3 312.3L990.1 311.7L990.0 311.2L989.9 310.6L989.7 310.0L989.6 309.5L989.4 308.9L989.2 308.3L989.1 307.7L988.9 307.1L988.7 306.5L988.5 305.9M986.2 297.6L985.9 296.9L985.7 296.1L985.4 295.3L985.1 294.6L984.8 294.0L984.5 293.4L984.1 292.8L983.7 292.3L983.2 291.8L982.7 291.3L982.1 290.8L981.5 290.3M995.1 277.0L993.9 277.6M1019.4 268.1L1018.2 268.4M1046.2 263.0L1044.9 263.2M1073.4 260.5L1072.1 260.6M1080.8 260.2L1079.5 260.2M1108.5 262.3L1107.3 262.1M1134.3 269.3L1133.1 268.9M1152.1 288.1L1152.1 286.9M1135.9 305.0L1137.1 304.4M1109.9 312.5L1111.2 312.3M1082.5 314.9L1083.8 314.9M1055.2 313.0L1056.5 313.2M1051.0 312.6L1052.3 312.7M1022.8 307.7L1024.1 307.9M998.6 299.9L999.8 300.5M989.9 264.5L990.2 263.2M986.0 239.5L984.8 238.9M974.7 258.4L974.5 259.7M961.0 260.0L960.2 259.0M934.9 240.0L933.9 240.9M942.3 241.4L941.1 240.7M942.8 260.8L943.6 261.8M937.7 293.2L939.0 293.2M939.5 318.2L938.7 319.2M935.1 323.1L934.4 324.2M946.1 330.4L947.1 329.5M976.4 325.8L976.7 327.0M991.0 325.7L991.1 324.4" fill="none" stroke="#000000" stroke-width="4.8"/>
<circle cx="976.5" cy="287.5" r="3.8" fill="none" stroke="#000" stroke-width="1"/>
<rect x="457.2" y="63.1" width="194.4" height="119.7" fill="#fff"/>
<path d="M472.2 84.9H548.0" stroke="#0000ff" stroke-width="4.8" fill="none"/>
<path d="M472.2 123.1H548.0" stroke="#ff0000" stroke-width="4.8" stroke-dasharray="11.4 11.8" fill="none"/>
<path d="M472.2 161.3H548.0" stroke="#000" stroke-width="4.8" stroke-dasharray="1.2 7.6 11.5 7.6" fill="none"/>
<text font-family="'Liberation Mono', monospace" stroke="#fff" stroke-width="0.55" font-size="33.5"><tspan x="560.1" y="93.6" font-size="29.5" stroke-width="0.25">(</tspan><tspan x="579.7" y="97.1">i</tspan><tspan x="601.2" y="93.6" font-size="29.5" stroke-width="0.25">)</tspan></text>
<text font-family="'Liberation Mono', monospace" stroke="#fff" stroke-width="0.55" font-size="33.5"><tspan x="560.1" y="131.4" font-size="29.5" stroke-width="0.25">(</tspan><tspan x="579.7" y="134.9">i</tspan><tspan x="602.7" y="134.9">i</tspan><tspan x="624.2" y="131.4" font-size="29.5" stroke-width="0.25">)</tspan></text>
<text font-family="'Liberation Mono', monospace" stroke="#fff" stroke-width="0.55" font-size="33.5"><tspan x="560.1" y="169.2" font-size="29.5" stroke-width="0.25">(</tspan><tspan x="579.7" y="172.7">i</tspan><tspan x="602.7" y="172.7">i</tspan><tspan x="625.7" y="172.7">i</tspan><tspan x="647.2" y="169.2" font-size="29.5" stroke-width="0.25">)</tspan></text>
<rect x="457.2" y="63.1" width="194.4" height="119.7" fill="none" stroke="#222" stroke-width="1.2"/>
<rect x="1196.3" y="63.1" width="194.4" height="119.7" fill="#fff"/>
<path d="M1211.3 84.9H1287.1" stroke="#0000ff" stroke-width="4.8" fill="none"/>
<path d="M1211.3 123.1H1287.1" stroke="#ff0000" stroke-width="4.8" stroke-dasharray="11.4 11.8" fill="none"/>
<path d="M1211.3 161.3H1287.1" stroke="#000" stroke-width="4.8" stroke-dasharray="1.2 7.6 11.5 7.6" fill="none"/>
<text font-family="'Liberation Mono', monospace" stroke="#fff" stroke-width="0.55" font-size="33.5"><tspan x="1299.2" y="93.6" font-size="29.5" stroke-width="0.25">(</tspan><tspan x="1318.8" y="97.1">i</tspan><tspan x="1340.4" y="93.6" font-size="29.5" stroke-width="0.25">)</tspan></text>
<text font-family="'Liberation Mono', monospace" stroke="#fff" stroke-width="0.55" font-size="33.5"><tspan x="1299.2" y="131.4" font-size="29.5" stroke-width="0.25">(</tspan><tspan x="1318.8" y="134.9">i</tspan><tspan x="1341.8" y="134.9">i</tspan><tspan x="1363.4" y="131.4" font-size="29.5" stroke-width="0.25">)</tspan></text>
<text font-family="'Liberation Mono', monospace" stroke="#fff" stroke-width="0.55" font-size="33.5"><tspan x="1299.2" y="169.2" font-size="29.5" stroke-width="0.25">(</tspan><tspan x="1318.8" y="172.7">i</tspan><tspan x="1341.8" y="172.7">i</tspan><tspan x="1364.8" y="172.7">i</tspan><tspan x="1386.4" y="169.2" font-size="29.5" stroke-width="0.25">)</tspan></text>
<rect x="1196.3" y="63.1" width="194.4" height="119.7" fill="none" stroke="#222" stroke-width="1.2"/>
<text transform="translate(123.4 28.2) scale(1.14 1)" font-family="'Liberation Mono', monospace" stroke="#fff" stroke-width="0.6" font-size="33.5" xml:space="preserve">Gain, G<tspan dx="2.35">(</tspan><tspan font-family="'Liberation Serif', serif" font-size="36.2" stroke="none" dx="-2.29">ϕ</tspan><tspan dx="-3.45">)</tspan></text>
<text transform="translate(862.5 28.2) scale(1.14 1)" font-family="'Liberation Mono', monospace" stroke="#fff" stroke-width="0.6" font-size="33.5" xml:space="preserve">Gain, G<tspan dx="2.35">(</tspan><tspan font-family="'Liberation Serif', serif" font-size="36.2" stroke="none" dx="-2.29">ϕ</tspan><tspan dx="-3.45">)</tspan></text>
<text transform="translate(124.0 577.7) scale(1.2 1)" font-family="'Liberation Mono', monospace" stroke="#fff" stroke-width="0.3" font-size="26.8" xml:space="preserve"><tspan font-family="'Liberation Serif', serif" font-size="31" stroke="none">ϕ</tspan><tspan dx="1.02"> (Degrees</tspan><tspan dx="-0.81">)</tspan></text>
<text transform="translate(870.3 577.7) scale(1.2 1)" font-family="'Liberation Mono', monospace" stroke="#fff" stroke-width="0.3" font-size="26.8" xml:space="preserve"><tspan font-family="'Liberation Serif', serif" font-size="31" stroke="none">ϕ</tspan><tspan dx="1.02"> (Degrees</tspan><tspan dx="-0.81">)</tspan></text>
<text x="246.5" y="621" text-anchor="middle" font-family="'Liberation Serif', serif" font-size="28">(a)</text>
<text x="990.9" y="621" text-anchor="middle" font-family="'Liberation Serif', serif" font-size="28">(b)</text>
</svg></body></html>
